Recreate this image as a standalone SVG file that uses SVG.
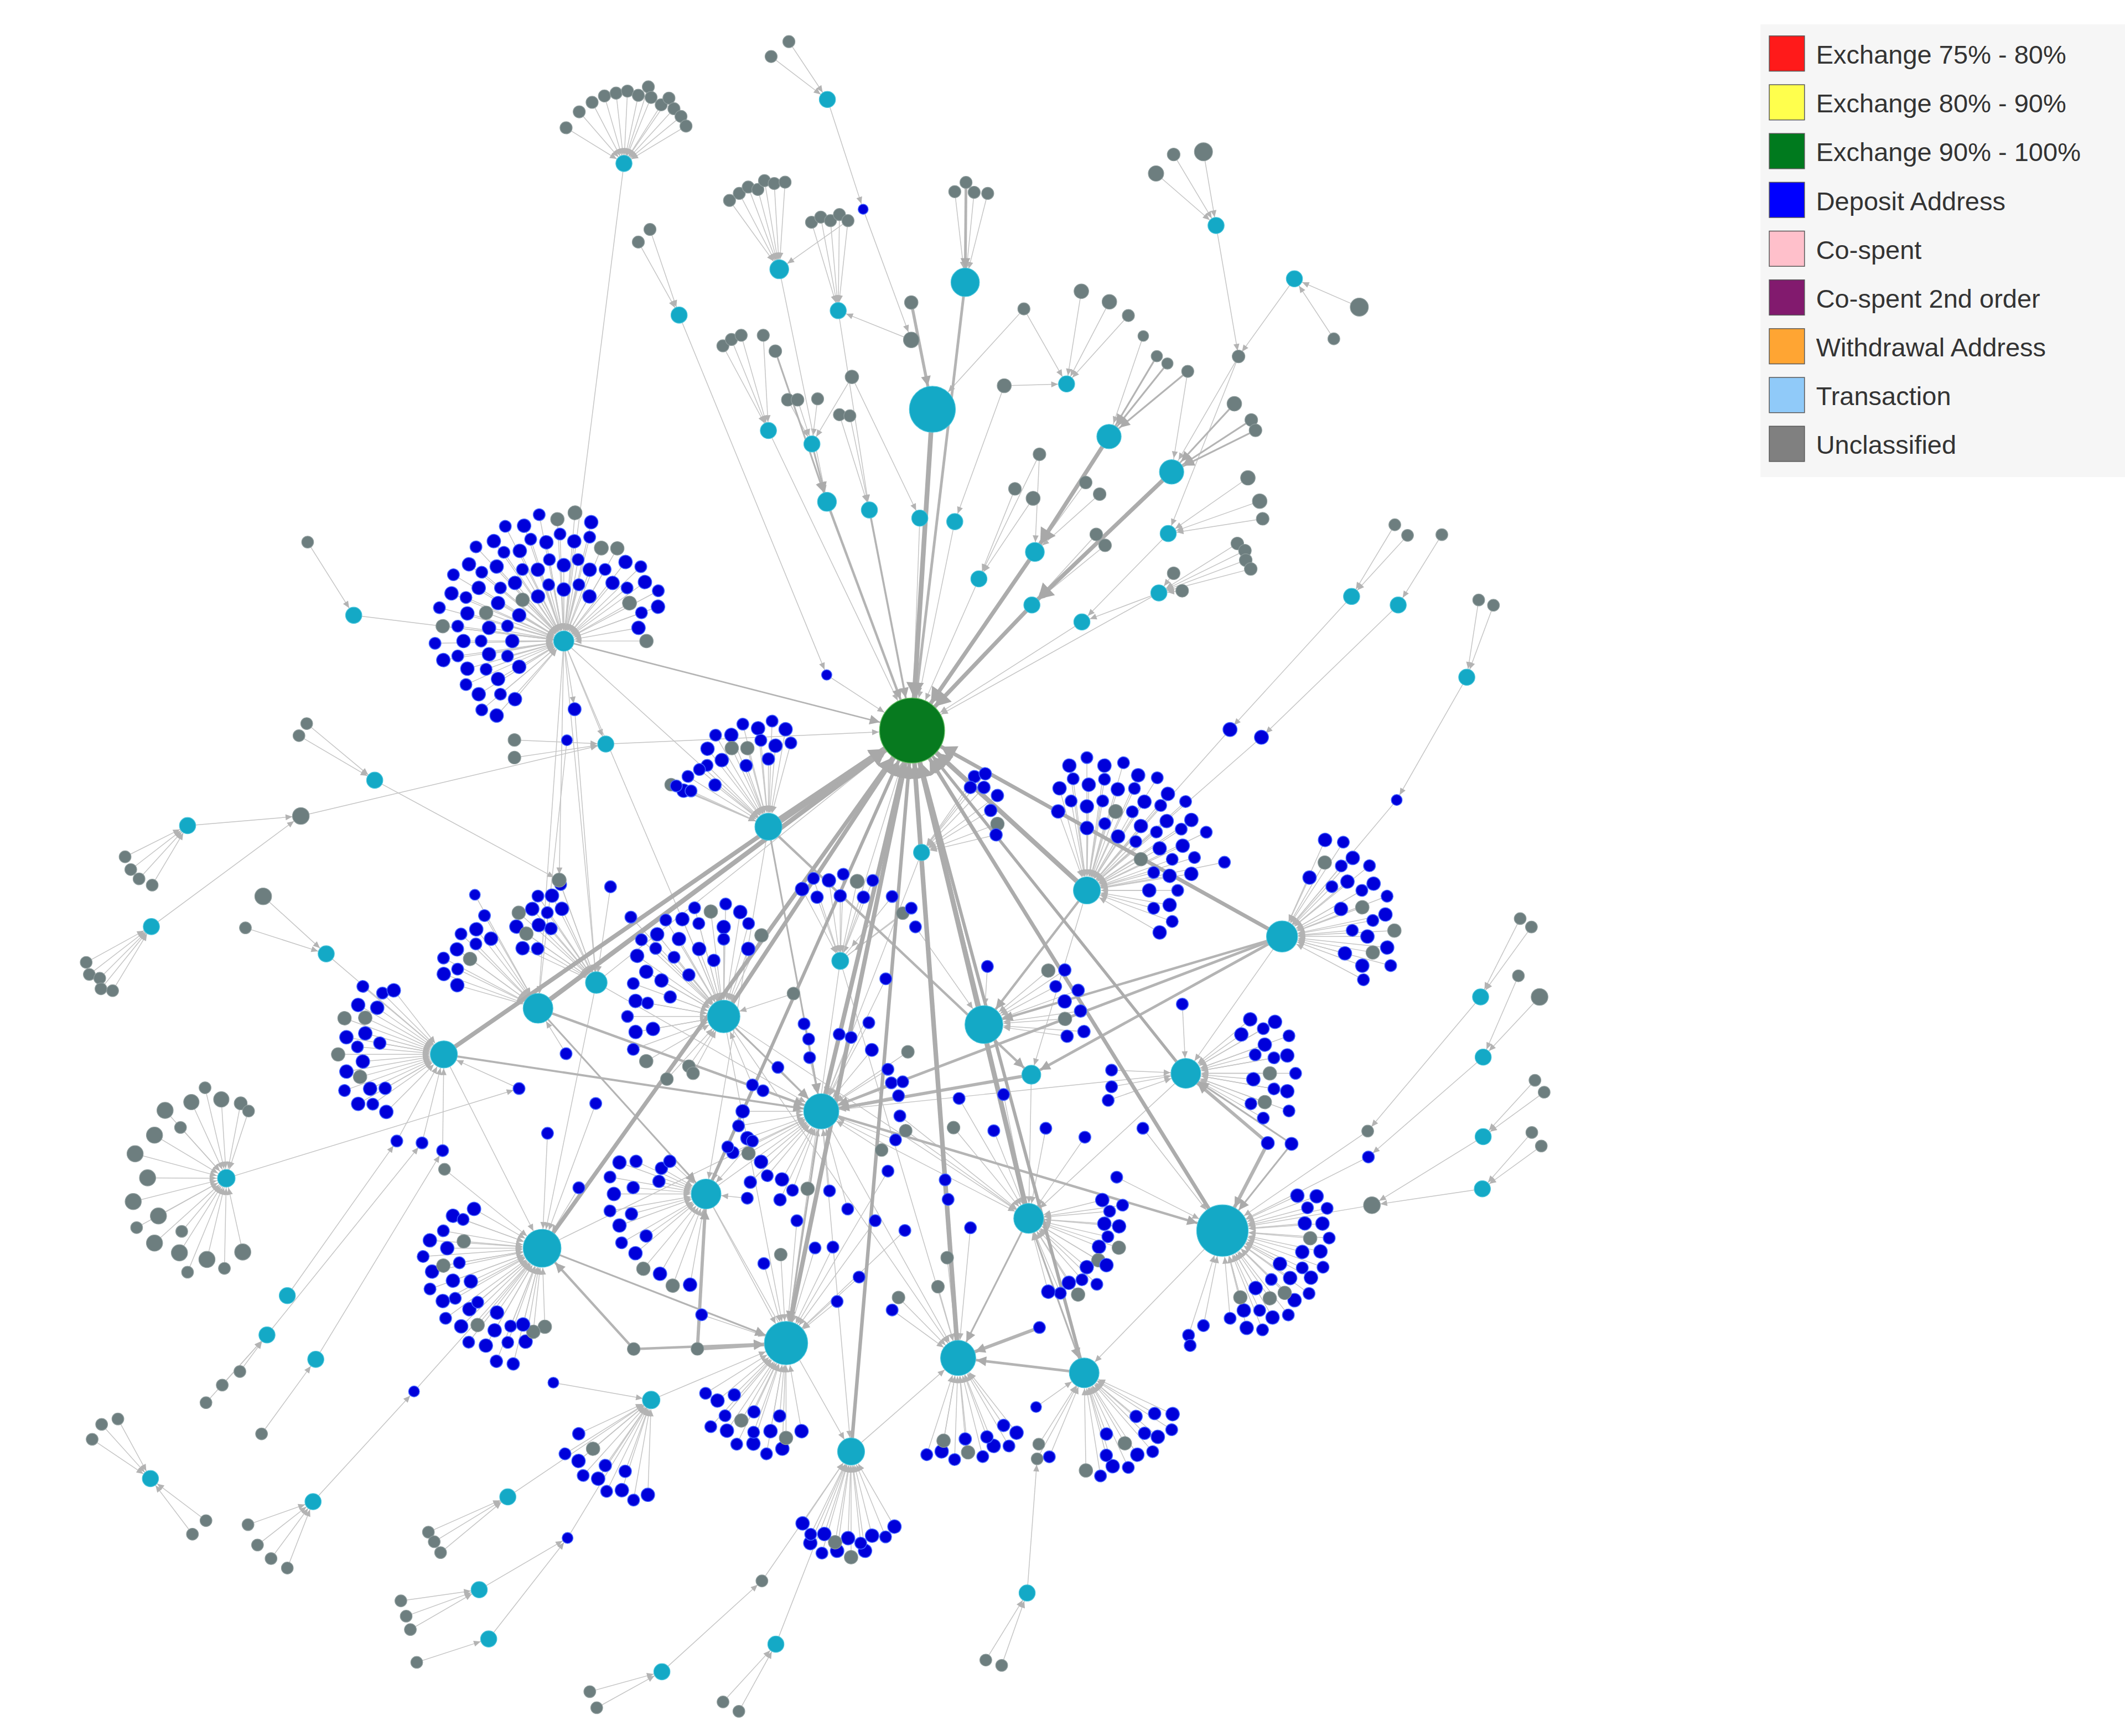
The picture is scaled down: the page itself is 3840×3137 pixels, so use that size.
<svg xmlns="http://www.w3.org/2000/svg" width="3840" height="3137" viewBox="0 0 3840 3137">
<style>
.e{stroke:#c4c4c4;stroke-width:.6;fill:none}
.m{stroke:#b4b4b4;stroke-width:1.3;fill:none}
.k{stroke:#acacac;stroke-width:3.2;fill:none}
.at{fill:#b3b3b3}.am{fill:#ababab}.ak{fill:#a8a8a8}
.t{fill:#14a9c6;stroke:#48c4db;stroke-width:.5}
.d{fill:#0000da;stroke:#4262ff;stroke-width:.6}
.u{fill:#6d7e7f;stroke:#8e9c9c;stroke-width:.5}
.x{fill:#077a1f;stroke:#5cb85c;stroke-width:.6}
.lg{font-family:"Liberation Sans",Arial,sans-serif;font-size:19.2px;fill:#333}
.sw{stroke:#555;stroke-width:.6}
</style>
<defs>
<marker id="t0" viewBox="-6 -3 7 6" refX="0" markerWidth="7" markerHeight="6" markerUnits="userSpaceOnUse" orient="auto" overflow="visible"><path class="at" d="M-5-2.2L0 0-5 2.2z"/></marker>
<marker id="t4" viewBox="-6 -3 7 6" refX="4.3" markerWidth="7" markerHeight="6" markerUnits="userSpaceOnUse" orient="auto" overflow="visible"><path class="at" d="M-5-2.2L0 0-5 2.2z"/></marker>
<marker id="t6" viewBox="-6 -3 7 6" refX="6.3" markerWidth="7" markerHeight="6" markerUnits="userSpaceOnUse" orient="auto" overflow="visible"><path class="at" d="M-5-2.2L0 0-5 2.2z"/></marker>
<marker id="t7" viewBox="-6 -3 7 6" refX="7.3" markerWidth="7" markerHeight="6" markerUnits="userSpaceOnUse" orient="auto" overflow="visible"><path class="at" d="M-5-2.2L0 0-5 2.2z"/></marker>
<marker id="t10" viewBox="-6 -3 7 6" refX="10.3" markerWidth="7" markerHeight="6" markerUnits="userSpaceOnUse" orient="auto" overflow="visible"><path class="at" d="M-5-2.2L0 0-5 2.2z"/></marker>
<marker id="t11" viewBox="-6 -3 7 6" refX="11.3" markerWidth="7" markerHeight="6" markerUnits="userSpaceOnUse" orient="auto" overflow="visible"><path class="at" d="M-5-2.2L0 0-5 2.2z"/></marker>
<marker id="t12" viewBox="-6 -3 7 6" refX="12.3" markerWidth="7" markerHeight="6" markerUnits="userSpaceOnUse" orient="auto" overflow="visible"><path class="at" d="M-5-2.2L0 0-5 2.2z"/></marker>
<marker id="t13" viewBox="-6 -3 7 6" refX="13.3" markerWidth="7" markerHeight="6" markerUnits="userSpaceOnUse" orient="auto" overflow="visible"><path class="at" d="M-5-2.2L0 0-5 2.2z"/></marker>
<marker id="t14" viewBox="-6 -3 7 6" refX="14.3" markerWidth="7" markerHeight="6" markerUnits="userSpaceOnUse" orient="auto" overflow="visible"><path class="at" d="M-5-2.2L0 0-5 2.2z"/></marker>
<marker id="t16" viewBox="-6 -3 7 6" refX="16.3" markerWidth="7" markerHeight="6" markerUnits="userSpaceOnUse" orient="auto" overflow="visible"><path class="at" d="M-5-2.2L0 0-5 2.2z"/></marker>
<marker id="t17" viewBox="-6 -3 7 6" refX="17.3" markerWidth="7" markerHeight="6" markerUnits="userSpaceOnUse" orient="auto" overflow="visible"><path class="at" d="M-5-2.2L0 0-5 2.2z"/></marker>
<marker id="t19" viewBox="-6 -3 7 6" refX="19.3" markerWidth="7" markerHeight="6" markerUnits="userSpaceOnUse" orient="auto" overflow="visible"><path class="at" d="M-5-2.2L0 0-5 2.2z"/></marker>
<marker id="t24" viewBox="-6 -3 7 6" refX="24.5" markerWidth="7" markerHeight="6" markerUnits="userSpaceOnUse" orient="auto" overflow="visible"><path class="at" d="M-5-2.2L0 0-5 2.2z"/></marker>
<marker id="m7" viewBox="-8 -4 9 8" refX="7.3" markerWidth="9" markerHeight="8" markerUnits="userSpaceOnUse" orient="auto" overflow="visible"><path class="am" d="M-7.5-3.6L0 0-7.5 3.6z"/></marker>
<marker id="m10" viewBox="-8 -4 9 8" refX="10.3" markerWidth="9" markerHeight="8" markerUnits="userSpaceOnUse" orient="auto" overflow="visible"><path class="am" d="M-7.5-3.6L0 0-7.5 3.6z"/></marker>
<marker id="m11" viewBox="-8 -4 9 8" refX="11.3" markerWidth="9" markerHeight="8" markerUnits="userSpaceOnUse" orient="auto" overflow="visible"><path class="am" d="M-7.5-3.6L0 0-7.5 3.6z"/></marker>
<marker id="m13" viewBox="-8 -4 9 8" refX="13.3" markerWidth="9" markerHeight="8" markerUnits="userSpaceOnUse" orient="auto" overflow="visible"><path class="am" d="M-7.5-3.6L0 0-7.5 3.6z"/></marker>
<marker id="m14" viewBox="-8 -4 9 8" refX="14.3" markerWidth="9" markerHeight="8" markerUnits="userSpaceOnUse" orient="auto" overflow="visible"><path class="am" d="M-7.5-3.6L0 0-7.5 3.6z"/></marker>
<marker id="m16" viewBox="-8 -4 9 8" refX="16.3" markerWidth="9" markerHeight="8" markerUnits="userSpaceOnUse" orient="auto" overflow="visible"><path class="am" d="M-7.5-3.6L0 0-7.5 3.6z"/></marker>
<marker id="m17" viewBox="-8 -4 9 8" refX="17.3" markerWidth="9" markerHeight="8" markerUnits="userSpaceOnUse" orient="auto" overflow="visible"><path class="am" d="M-7.5-3.6L0 0-7.5 3.6z"/></marker>
<marker id="m19" viewBox="-8 -4 9 8" refX="19.3" markerWidth="9" markerHeight="8" markerUnits="userSpaceOnUse" orient="auto" overflow="visible"><path class="am" d="M-7.5-3.6L0 0-7.5 3.6z"/></marker>
<marker id="m24" viewBox="-8 -4 9 8" refX="24.5" markerWidth="9" markerHeight="8" markerUnits="userSpaceOnUse" orient="auto" overflow="visible"><path class="am" d="M-7.5-3.6L0 0-7.5 3.6z"/></marker>
<marker id="k6" viewBox="-12 -7 13 14" refX="6.3" markerWidth="13" markerHeight="14" markerUnits="userSpaceOnUse" orient="auto" overflow="visible"><path class="ak" d="M-11-6.5L0 0-11 6.5z"/></marker>
<marker id="k7" viewBox="-12 -7 13 14" refX="7.3" markerWidth="13" markerHeight="14" markerUnits="userSpaceOnUse" orient="auto" overflow="visible"><path class="ak" d="M-11-6.5L0 0-11 6.5z"/></marker>
<marker id="k24" viewBox="-12 -7 13 14" refX="24.5" markerWidth="13" markerHeight="14" markerUnits="userSpaceOnUse" orient="auto" overflow="visible"><path class="ak" d="M-11-6.5L0 0-11 6.5z"/></marker>
</defs>
<rect width="3840" height="3137" fill="#fff"/>
<g transform="scale(2.449)">
<g id="connectors">
<g class="e" marker-end="url(#t0)">
<g transform="translate(416 473)">
<path d="M92 0H8" transform="rotate(171)"/><path d="M92 0H8" transform="rotate(179)"/><path d="M92 0H8" transform="rotate(187)"/><path d="M92 0H8" transform="rotate(195)"/><path d="M92 0H8" transform="rotate(203)"/><path d="M92 0H8" transform="rotate(211)"/><path d="M92 0H8" transform="rotate(219)"/><path d="M92 0H8" transform="rotate(227)"/><path d="M92 0H8" transform="rotate(235)"/><path d="M92 0H8" transform="rotate(243)"/><path d="M92 0H8" transform="rotate(251)"/><path d="M92 0H8" transform="rotate(259)"/><path d="M92 0H8" transform="rotate(267)"/><path d="M92 0H8" transform="rotate(275)"/><path d="M92 0H8" transform="rotate(283)"/>
<path d="M76 0H8" transform="rotate(132)"/><path d="M76 0H8" transform="rotate(140)"/><path d="M76 0H8" transform="rotate(148)"/><path d="M76 0H8" transform="rotate(156)"/><path d="M76 0H8" transform="rotate(164)"/><path d="M76 0H8" transform="rotate(172)"/><path d="M76 0H8" transform="rotate(180)"/><path d="M76 0H8" transform="rotate(188)"/><path d="M76 0H8" transform="rotate(196)"/><path d="M76 0H8" transform="rotate(204)"/><path d="M76 0H8" transform="rotate(212)"/><path d="M76 0H8" transform="rotate(220)"/><path d="M76 0H8" transform="rotate(228)"/><path d="M76 0H8" transform="rotate(236)"/><path d="M76 0H8" transform="rotate(244)"/><path d="M76 0H8" transform="rotate(252)"/><path d="M76 0H8" transform="rotate(260)"/><path d="M76 0H8" transform="rotate(268)"/><path d="M76 0H8" transform="rotate(276)"/><path d="M76 0H8" transform="rotate(284)"/><path d="M76 0H8" transform="rotate(292)"/><path d="M76 0H8" transform="rotate(300)"/><path d="M76 0H8" transform="rotate(308)"/><path d="M76 0H8" transform="rotate(316)"/><path d="M76 0H8" transform="rotate(324)"/><path d="M76 0H8" transform="rotate(332)"/><path d="M76 0H8" transform="rotate(340)"/>
<path d="M58 0H8" transform="rotate(130)"/><path d="M58 0H8" transform="rotate(140)"/><path d="M58 0H8" transform="rotate(150)"/><path d="M58 0H8" transform="rotate(160)"/><path d="M58 0H8" transform="rotate(170)"/><path d="M58 0H8" transform="rotate(180)"/><path d="M58 0H8" transform="rotate(190)"/><path d="M58 0H8" transform="rotate(200)"/><path d="M58 0H8" transform="rotate(210)"/><path d="M58 0H8" transform="rotate(220)"/><path d="M58 0H8" transform="rotate(230)"/><path d="M58 0H8" transform="rotate(240)"/><path d="M58 0H8" transform="rotate(250)"/><path d="M58 0H8" transform="rotate(260)"/><path d="M58 0H8" transform="rotate(270)"/><path d="M58 0H8" transform="rotate(280)"/><path d="M58 0H8" transform="rotate(290)"/><path d="M58 0H8" transform="rotate(300)"/><path d="M58 0H8" transform="rotate(310)"/><path d="M58 0H8" transform="rotate(320)"/><path d="M58 0H8" transform="rotate(330)"/><path d="M58 0H8" transform="rotate(340)"/><path d="M58 0H8" transform="rotate(350)"/><path d="M58 0H8" transform="rotate(360)"/>
<path d="M40 0H8" transform="rotate(150)"/><path d="M40 0H8" transform="rotate(165)"/><path d="M40 0H8" transform="rotate(180)"/><path d="M40 0H8" transform="rotate(195)"/><path d="M40 0H8" transform="rotate(210)"/><path d="M40 0H8" transform="rotate(225)"/><path d="M40 0H8" transform="rotate(240)"/><path d="M40 0H8" transform="rotate(255)"/><path d="M40 0H8" transform="rotate(270)"/><path d="M40 0H8" transform="rotate(285)"/><path d="M40 0H8" transform="rotate(300)"/>
</g>
<g transform="translate(567 610)">
<path d="M75 0H10.5" transform="rotate(232)"/><path d="M75 0H10.5" transform="rotate(240)"/><path d="M75 0H10.5" transform="rotate(248)"/><path d="M75 0H10.5" transform="rotate(256)"/><path d="M75 0H10.5" transform="rotate(264)"/><path d="M75 0H10.5" transform="rotate(272)"/><path d="M75 0H10.5" transform="rotate(280)"/>
<path d="M62 0H10.5" transform="rotate(225)"/><path d="M62 0H10.5" transform="rotate(235)"/><path d="M62 0H10.5" transform="rotate(245)"/><path d="M62 0H10.5" transform="rotate(255)"/><path d="M62 0H10.5" transform="rotate(265)"/><path d="M62 0H10.5" transform="rotate(275)"/><path d="M62 0H10.5" transform="rotate(285)"/>
<path d="M50 0H10.5" transform="rotate(218)"/><path d="M50 0H10.5" transform="rotate(250)"/><path d="M50 0H10.5" transform="rotate(270)"/><path d="M68 0H10.5" transform="rotate(203)"/><path d="M68 0H10.5" transform="rotate(212)"/>
</g>
<g transform="translate(802 657)">
<path d="M95 0H10.5" transform="rotate(262)"/><path d="M95 0H10.5" transform="rotate(270)"/><path d="M95 0H10.5" transform="rotate(278)"/><path d="M95 0H10.5" transform="rotate(286)"/><path d="M95 0H10.5" transform="rotate(294)"/><path d="M95 0H10.5" transform="rotate(302)"/><path d="M95 0H10.5" transform="rotate(310)"/><path d="M95 0H10.5" transform="rotate(318)"/><path d="M95 0H10.5" transform="rotate(326)"/><path d="M95 0H10.5" transform="rotate(334)"/>
<path d="M80 0H10.5" transform="rotate(255)"/><path d="M80 0H10.5" transform="rotate(263)"/><path d="M80 0H10.5" transform="rotate(271)"/><path d="M80 0H10.5" transform="rotate(279)"/><path d="M80 0H10.5" transform="rotate(287)"/><path d="M80 0H10.5" transform="rotate(295)"/><path d="M80 0H10.5" transform="rotate(303)"/><path d="M80 0H10.5" transform="rotate(311)"/><path d="M80 0H10.5" transform="rotate(319)"/><path d="M80 0H10.5" transform="rotate(327)"/><path d="M80 0H10.5" transform="rotate(335)"/><path d="M80 0H10.5" transform="rotate(343)"/><path d="M80 0H10.5" transform="rotate(351)"/>
<path d="M64 0H10.5" transform="rotate(250)"/><path d="M64 0H10.5" transform="rotate(260)"/><path d="M64 0H10.5" transform="rotate(270)"/><path d="M64 0H10.5" transform="rotate(280)"/><path d="M64 0H10.5" transform="rotate(290)"/><path d="M64 0H10.5" transform="rotate(300)"/><path d="M64 0H10.5" transform="rotate(310)"/><path d="M64 0H10.5" transform="rotate(320)"/><path d="M64 0H10.5" transform="rotate(330)"/><path d="M64 0H10.5" transform="rotate(340)"/><path d="M64 0H10.5" transform="rotate(350)"/><path d="M64 0H10.5" transform="rotate(360)"/><path d="M64 0H10.5" transform="rotate(370)"/><path d="M64 0H10.5" transform="rotate(380)"/><path d="M64 0H10.5" transform="rotate(390)"/>
<path d="M48 0H10.5" transform="rotate(270)"/><path d="M48 0H10.5" transform="rotate(285)"/><path d="M48 0H10.5" transform="rotate(300)"/><path d="M48 0H10.5" transform="rotate(315)"/><path d="M48 0H10.5" transform="rotate(330)"/><path d="M48 0H10.5" transform="rotate(345)"/><path d="M48 0H10.5" transform="rotate(360)"/><path d="M48 0H10.5" transform="rotate(375)"/>
</g>
<g transform="translate(946 691)">
<path d="M80 0H12" transform="rotate(-66)"/><path d="M80 0H12" transform="rotate(-57)"/><path d="M80 0H12" transform="rotate(-48)"/><path d="M80 0H12" transform="rotate(-39)"/><path d="M80 0H12" transform="rotate(-30)"/><path d="M80 0H12" transform="rotate(-21)"/><path d="M80 0H12" transform="rotate(-12)"/><path d="M80 0H12" transform="rotate(-3)"/><path d="M80 0H12" transform="rotate(6)"/><path d="M80 0H12" transform="rotate(15)"/>
<path d="M65 0H12" transform="rotate(-60)"/><path d="M65 0H12" transform="rotate(-50)"/><path d="M65 0H12" transform="rotate(-40)"/><path d="M65 0H12" transform="rotate(-30)"/><path d="M65 0H12" transform="rotate(-20)"/><path d="M65 0H12" transform="rotate(-10)"/><path d="M65 0H12" transform="rotate(0)"/><path d="M65 0H12" transform="rotate(10)"/><path d="M65 0H12" transform="rotate(20)"/><path d="M65 0H12" transform="rotate(28)"/>
<path d="M50 0H12" transform="rotate(-65)"/><path d="M50 0H12" transform="rotate(-45)"/><path d="M50 0H12" transform="rotate(-25)"/><path d="M50 0H12" transform="rotate(-5)"/><path d="M50 0H12" transform="rotate(15)"/>
</g>
<g transform="translate(875 792)">
<path d="M78 0H11.5" transform="rotate(-30)"/><path d="M78 0H11.5" transform="rotate(-20)"/><path d="M78 0H11.5" transform="rotate(-10)"/><path d="M78 0H11.5" transform="rotate(0)"/><path d="M78 0H11.5" transform="rotate(10)"/><path d="M78 0H11.5" transform="rotate(20)"/>
<path d="M64 0H11.5" transform="rotate(-40)"/><path d="M64 0H11.5" transform="rotate(-30)"/><path d="M64 0H11.5" transform="rotate(-20)"/><path d="M64 0H11.5" transform="rotate(-10)"/><path d="M64 0H11.5" transform="rotate(0)"/><path d="M64 0H11.5" transform="rotate(10)"/><path d="M64 0H11.5" transform="rotate(20)"/><path d="M64 0H11.5" transform="rotate(30)"/>
<path d="M52 0H11.5" transform="rotate(-35)"/><path d="M52 0H11.5" transform="rotate(-15)"/><path d="M52 0H11.5" transform="rotate(5)"/><path d="M52 0H11.5" transform="rotate(25)"/>
</g>
<g transform="translate(902 908)">
<path d="M76 0H19.5" transform="rotate(-20)"/><path d="M76 0H19.5" transform="rotate(-12)"/><path d="M76 0H19.5" transform="rotate(-4)"/><path d="M76 0H19.5" transform="rotate(4)"/><path d="M76 0H19.5" transform="rotate(12)"/><path d="M76 0H19.5" transform="rotate(20)"/><path d="M76 0H19.5" transform="rotate(28)"/><path d="M76 0H19.5" transform="rotate(36)"/><path d="M76 0H19.5" transform="rotate(44)"/><path d="M76 0H19.5" transform="rotate(52)"/><path d="M76 0H19.5" transform="rotate(60)"/><path d="M76 0H19.5" transform="rotate(68)"/><path d="M76 0H19.5" transform="rotate(76)"/>
<path d="M63 0H19.5" transform="rotate(-25)"/><path d="M63 0H19.5" transform="rotate(-15)"/><path d="M63 0H19.5" transform="rotate(-5)"/><path d="M63 0H19.5" transform="rotate(5)"/><path d="M63 0H19.5" transform="rotate(15)"/><path d="M63 0H19.5" transform="rotate(25)"/><path d="M63 0H19.5" transform="rotate(35)"/><path d="M63 0H19.5" transform="rotate(45)"/><path d="M63 0H19.5" transform="rotate(55)"/><path d="M63 0H19.5" transform="rotate(65)"/><path d="M63 0H19.5" transform="rotate(75)"/><path d="M63 0H19.5" transform="rotate(85)"/>
<path d="M50 0H19.5" transform="rotate(30)"/><path d="M50 0H19.5" transform="rotate(45)"/><path d="M50 0H19.5" transform="rotate(60)"/><path d="M50 0H19.5" transform="rotate(75)"/>
</g>
<g transform="translate(759 899)">
<path d="M58 0H11.5" transform="rotate(-14)"/><path d="M58 0H11.5" transform="rotate(-5)"/><path d="M58 0H11.5" transform="rotate(4)"/><path d="M58 0H11.5" transform="rotate(13)"/><path d="M58 0H11.5" transform="rotate(22)"/><path d="M58 0H11.5" transform="rotate(31)"/><path d="M58 0H11.5" transform="rotate(40)"/><path d="M58 0H11.5" transform="rotate(49)"/><path d="M58 0H11.5" transform="rotate(58)"/><path d="M58 0H11.5" transform="rotate(67)"/><path d="M58 0H11.5" transform="rotate(75)"/>
<path d="M68 0H11.5" transform="rotate(-8)"/><path d="M68 0H11.5" transform="rotate(5)"/><path d="M68 0H11.5" transform="rotate(18)"/><path d="M68 0H11.5" transform="rotate(31)"/><path d="M68 0H11.5" transform="rotate(44)"/><path d="M68 0H11.5" transform="rotate(57)"/>
</g>
<g transform="translate(726 756)">
<path d="M62 0H14.5" transform="rotate(-40)"/><path d="M62 0H14.5" transform="rotate(-28)"/><path d="M62 0H14.5" transform="rotate(-16)"/><path d="M62 0H14.5" transform="rotate(-4)"/><path d="M62 0H14.5" transform="rotate(8)"/>
<path d="M72 0H14.5" transform="rotate(-34)"/><path d="M72 0H14.5" transform="rotate(-20)"/><path d="M72 0H14.5" transform="rotate(-8)"/><path d="M72 0H14.5" transform="rotate(4)"/>
</g>
<g transform="translate(620 709)">
<path d="M62 0H6.5" transform="rotate(242)"/><path d="M62 0H6.5" transform="rotate(252)"/><path d="M62 0H6.5" transform="rotate(262)"/><path d="M62 0H6.5" transform="rotate(272)"/><path d="M62 0H6.5" transform="rotate(282)"/><path d="M62 0H6.5" transform="rotate(292)"/>
<path d="M50 0H6.5" transform="rotate(250)"/><path d="M50 0H6.5" transform="rotate(270)"/><path d="M50 0H6.5" transform="rotate(290)"/>
</g>
<g transform="translate(534 750)">
<path d="M80 0H12.5" transform="rotate(215)"/><path d="M80 0H12.5" transform="rotate(223)"/><path d="M80 0H12.5" transform="rotate(231)"/><path d="M80 0H12.5" transform="rotate(239)"/><path d="M80 0H12.5" transform="rotate(247)"/><path d="M80 0H12.5" transform="rotate(255)"/><path d="M80 0H12.5" transform="rotate(263)"/><path d="M80 0H12.5" transform="rotate(271)"/><path d="M80 0H12.5" transform="rotate(279)"/>
<path d="M68 0H12.5" transform="rotate(150)"/><path d="M68 0H12.5" transform="rotate(160)"/><path d="M68 0H12.5" transform="rotate(170)"/><path d="M68 0H12.5" transform="rotate(180)"/><path d="M68 0H12.5" transform="rotate(190)"/><path d="M68 0H12.5" transform="rotate(200)"/><path d="M68 0H12.5" transform="rotate(210)"/><path d="M68 0H12.5" transform="rotate(225)"/><path d="M68 0H12.5" transform="rotate(240)"/><path d="M68 0H12.5" transform="rotate(255)"/><path d="M68 0H12.5" transform="rotate(270)"/><path d="M68 0H12.5" transform="rotate(285)"/><path d="M68 0H12.5" transform="rotate(295)"/>
<path d="M55 0H12.5" transform="rotate(170)"/><path d="M55 0H12.5" transform="rotate(190)"/><path d="M55 0H12.5" transform="rotate(210)"/><path d="M55 0H12.5" transform="rotate(230)"/><path d="M55 0H12.5" transform="rotate(250)"/><path d="M55 0H12.5" transform="rotate(270)"/><path d="M55 0H12.5" transform="rotate(290)"/>
<path d="M42 0H12.5" transform="rotate(200)"/><path d="M42 0H12.5" transform="rotate(230)"/><path d="M42 0H12.5" transform="rotate(260)"/>
</g>
<g transform="translate(606 820)">
<path d="M60 0H13.5" transform="rotate(100)"/><path d="M60 0H13.5" transform="rotate(110)"/><path d="M60 0H13.5" transform="rotate(120)"/><path d="M60 0H13.5" transform="rotate(130)"/><path d="M60 0H13.5" transform="rotate(140)"/><path d="M60 0H13.5" transform="rotate(150)"/><path d="M60 0H13.5" transform="rotate(160)"/><path d="M60 0H13.5" transform="rotate(170)"/><path d="M60 0H13.5" transform="rotate(180)"/>
<path d="M72 0H13.5" transform="rotate(115)"/><path d="M72 0H13.5" transform="rotate(135)"/><path d="M72 0H13.5" transform="rotate(155)"/>
</g>
<g transform="translate(521 881)">
<path d="M70 0H11.5" transform="rotate(100)"/><path d="M70 0H11.5" transform="rotate(110)"/><path d="M70 0H11.5" transform="rotate(120)"/><path d="M70 0H11.5" transform="rotate(130)"/><path d="M70 0H11.5" transform="rotate(140)"/><path d="M70 0H11.5" transform="rotate(150)"/><path d="M70 0H11.5" transform="rotate(160)"/><path d="M70 0H11.5" transform="rotate(170)"/><path d="M70 0H11.5" transform="rotate(180)"/><path d="M70 0H11.5" transform="rotate(190)"/><path d="M70 0H11.5" transform="rotate(200)"/>
<path d="M56 0H11.5" transform="rotate(145)"/><path d="M56 0H11.5" transform="rotate(165)"/><path d="M56 0H11.5" transform="rotate(185)"/><path d="M56 0H11.5" transform="rotate(205)"/>
<path d="M36 0H11.5" transform="rotate(195)"/><path d="M36 0H11.5" transform="rotate(210)"/><path d="M36 0H11.5" transform="rotate(222)"/>
</g>
<g transform="translate(400 921)">
<path d="M85 0H14.5" transform="rotate(120)"/><path d="M85 0H14.5" transform="rotate(128)"/><path d="M85 0H14.5" transform="rotate(136)"/><path d="M85 0H14.5" transform="rotate(144)"/><path d="M85 0H14.5" transform="rotate(152)"/><path d="M85 0H14.5" transform="rotate(160)"/><path d="M85 0H14.5" transform="rotate(168)"/><path d="M85 0H14.5" transform="rotate(176)"/><path d="M85 0H14.5" transform="rotate(184)"/>
<path d="M72 0H14.5" transform="rotate(100)"/><path d="M72 0H14.5" transform="rotate(110)"/><path d="M72 0H14.5" transform="rotate(120)"/><path d="M72 0H14.5" transform="rotate(130)"/><path d="M72 0H14.5" transform="rotate(140)"/><path d="M72 0H14.5" transform="rotate(150)"/><path d="M72 0H14.5" transform="rotate(160)"/><path d="M72 0H14.5" transform="rotate(170)"/><path d="M72 0H14.5" transform="rotate(180)"/><path d="M72 0H14.5" transform="rotate(190)"/><path d="M72 0H14.5" transform="rotate(200)"/>
<path d="M60 0H14.5" transform="rotate(88)"/><path d="M60 0H14.5" transform="rotate(96)"/><path d="M60 0H14.5" transform="rotate(104)"/><path d="M60 0H14.5" transform="rotate(112)"/><path d="M60 0H14.5" transform="rotate(125)"/><path d="M60 0H14.5" transform="rotate(140)"/><path d="M60 0H14.5" transform="rotate(155)"/><path d="M60 0H14.5" transform="rotate(170)"/><path d="M60 0H14.5" transform="rotate(185)"/><path d="M60 0H14.5" transform="rotate(200)"/><path d="M60 0H14.5" transform="rotate(210)"/>
<path d="M88 0H14.5" transform="rotate(104)"/><path d="M88 0H14.5" transform="rotate(112)"/>
</g>
<g transform="translate(327.5 778)">
<path d="M75 0H10.5" transform="rotate(150)"/><path d="M75 0H10.5" transform="rotate(160)"/><path d="M75 0H10.5" transform="rotate(170)"/><path d="M75 0H10.5" transform="rotate(180)"/><path d="M75 0H10.5" transform="rotate(190)"/><path d="M75 0H10.5" transform="rotate(200)"/><path d="M75 0H10.5" transform="rotate(210)"/><path d="M75 0H10.5" transform="rotate(220)"/>
<path d="M62 0H10.5" transform="rotate(135)"/><path d="M62 0H10.5" transform="rotate(145)"/><path d="M62 0H10.5" transform="rotate(155)"/><path d="M62 0H10.5" transform="rotate(165)"/><path d="M62 0H10.5" transform="rotate(175)"/><path d="M62 0H10.5" transform="rotate(185)"/><path d="M62 0H10.5" transform="rotate(195)"/><path d="M62 0H10.5" transform="rotate(205)"/><path d="M62 0H10.5" transform="rotate(215)"/><path d="M62 0H10.5" transform="rotate(225)"/><path d="M62 0H10.5" transform="rotate(232)"/>
<path d="M50 0H10.5" transform="rotate(150)"/><path d="M50 0H10.5" transform="rotate(190)"/>
</g>
<g transform="translate(397 744)">
<path d="M76 0H11.5" transform="rotate(200)"/><path d="M76 0H11.5" transform="rotate(208)"/><path d="M76 0H11.5" transform="rotate(216)"/><path d="M76 0H11.5" transform="rotate(224)"/><path d="M76 0H11.5" transform="rotate(232)"/><path d="M76 0H11.5" transform="rotate(240)"/>
<path d="M64 0H11.5" transform="rotate(196)"/><path d="M64 0H11.5" transform="rotate(206)"/><path d="M64 0H11.5" transform="rotate(216)"/><path d="M64 0H11.5" transform="rotate(226)"/><path d="M64 0H11.5" transform="rotate(236)"/>
</g>
<g transform="translate(440 725)">
<path d="M74 0H8.5" transform="rotate(215)"/><path d="M74 0H8.5" transform="rotate(222)"/><path d="M74 0H8.5" transform="rotate(229)"/><path d="M74 0H8.5" transform="rotate(236)"/><path d="M74 0H8.5" transform="rotate(243)"/><path d="M74 0H8.5" transform="rotate(250)"/>
<path d="M62 0H8.5" transform="rotate(205)"/><path d="M62 0H8.5" transform="rotate(215)"/><path d="M62 0H8.5" transform="rotate(225)"/><path d="M62 0H8.5" transform="rotate(235)"/><path d="M62 0H8.5" transform="rotate(245)"/>
<path d="M52 0H8.5" transform="rotate(210)"/><path d="M52 0H8.5" transform="rotate(230)"/>
</g>
<g transform="translate(580 991)">
<path d="M80 0H16.5" transform="rotate(92)"/><path d="M80 0H16.5" transform="rotate(100)"/><path d="M80 0H16.5" transform="rotate(108)"/><path d="M80 0H16.5" transform="rotate(116)"/><path d="M80 0H16.5" transform="rotate(124)"/><path d="M80 0H16.5" transform="rotate(132)"/>
<path d="M68 0H16.5" transform="rotate(80)"/><path d="M68 0H16.5" transform="rotate(90)"/><path d="M68 0H16.5" transform="rotate(100)"/><path d="M68 0H16.5" transform="rotate(110)"/><path d="M68 0H16.5" transform="rotate(120)"/><path d="M68 0H16.5" transform="rotate(130)"/><path d="M68 0H16.5" transform="rotate(140)"/><path d="M68 0H16.5" transform="rotate(148)"/>
<path d="M55 0H16.5" transform="rotate(95)"/><path d="M55 0H16.5" transform="rotate(115)"/><path d="M55 0H16.5" transform="rotate(135)"/>
</g>
<g transform="translate(707 1002)">
<path d="M72 0H13.5" transform="rotate(52)"/><path d="M72 0H13.5" transform="rotate(60)"/><path d="M72 0H13.5" transform="rotate(68)"/><path d="M72 0H13.5" transform="rotate(76)"/><path d="M72 0H13.5" transform="rotate(84)"/><path d="M72 0H13.5" transform="rotate(92)"/><path d="M72 0H13.5" transform="rotate(100)"/><path d="M72 0H13.5" transform="rotate(108)"/>
<path d="M62 0H13.5" transform="rotate(56)"/><path d="M62 0H13.5" transform="rotate(70)"/><path d="M62 0H13.5" transform="rotate(85)"/><path d="M62 0H13.5" transform="rotate(100)"/>
</g>
<g transform="translate(800 1013)">
<path d="M74 0H11.5" transform="rotate(25)"/><path d="M74 0H11.5" transform="rotate(33)"/><path d="M74 0H11.5" transform="rotate(41)"/><path d="M74 0H11.5" transform="rotate(49)"/><path d="M74 0H11.5" transform="rotate(57)"/><path d="M74 0H11.5" transform="rotate(65)"/><path d="M74 0H11.5" transform="rotate(73)"/><path d="M74 0H11.5" transform="rotate(81)"/><path d="M74 0H11.5" transform="rotate(89)"/>
<path d="M62 0H11.5" transform="rotate(30)"/><path d="M62 0H11.5" transform="rotate(45)"/><path d="M62 0H11.5" transform="rotate(60)"/><path d="M62 0H11.5" transform="rotate(75)"/><path d="M50 0H11.5" transform="rotate(40)"/><path d="M50 0H11.5" transform="rotate(70)"/>
</g>
<g transform="translate(628 1071)">
<path d="M76 0H10.5" transform="rotate(82)"/><path d="M76 0H10.5" transform="rotate(90)"/><path d="M76 0H10.5" transform="rotate(98)"/><path d="M76 0H10.5" transform="rotate(106)"/><path d="M76 0H10.5" transform="rotate(114)"/>
<path d="M66 0H10.5" transform="rotate(60)"/><path d="M66 0H10.5" transform="rotate(68)"/><path d="M66 0H10.5" transform="rotate(76)"/><path d="M66 0H10.5" transform="rotate(84)"/><path d="M66 0H10.5" transform="rotate(92)"/><path d="M66 0H10.5" transform="rotate(100)"/><path d="M66 0H10.5" transform="rotate(108)"/><path d="M66 0H10.5" transform="rotate(116)"/><path d="M66 0H10.5" transform="rotate(124)"/>
</g>
<g transform="translate(480.5 1033)">
<path d="M72 0H7" transform="rotate(92)"/><path d="M72 0H7" transform="rotate(100)"/><path d="M72 0H7" transform="rotate(108)"/><path d="M72 0H7" transform="rotate(116)"/><path d="M72 0H7" transform="rotate(124)"/><path d="M72 0H7" transform="rotate(132)"/><path d="M72 0H7" transform="rotate(140)"/><path d="M72 0H7" transform="rotate(148)"/>
<path d="M58 0H7" transform="rotate(110)"/><path d="M58 0H7" transform="rotate(125)"/><path d="M58 0H7" transform="rotate(140)"/><path d="M58 0H7" transform="rotate(155)"/>
</g>
<g transform="translate(680 629)">
<path d="M68.2 0H6.5" transform="rotate(-55.1)"/><path d="M74.7 0H6.5" transform="rotate(-51)"/><path d="M60 0H6.5" transform="rotate(-53.1)"/><path d="M66.5 0H6.5" transform="rotate(-46.2)"/><path d="M70 0H6.5" transform="rotate(-36.9)"/><path d="M59.7 0H6.5" transform="rotate(-31.3)"/><path d="M59.8 0H6.5" transform="rotate(-20.6)"/><path d="M56.5 0H6.5" transform="rotate(-13.3)"/>
</g>
</g>
<g class="e" marker-end="url(#t4)">
<path d="M610.5 73.4L636.9 154.4"/><path d="M501.1 232.5L610 498"/><path d="M997.3 440.1L907.6 538.3"/><path d="M1031.7 446.4L930.8 544"/><path d="M1082.3 499.7L1030.6 590.3"/><path d="M276.5 575.7L412.6 649.4"/><path d="M416 473L412.6 649.4"/><path d="M416 473L424 523.3"/><path d="M167 869.4L383 803.2"/><path d="M212 956L292.8 841.9"/><path d="M197 985L311.4 843.3"/><path d="M233 1003L326.6 849"/><path d="M231 1108L305.5 1026.7"/><path d="M353.6 1173L418.8 1134.8"/><path d="M360.6 1209.3L418.8 1134.8"/><path d="M488.4 1233.5L562.2 1166.5"/><path d="M757.9 1175.4L765.3 1076.4"/><path d="M1092.5 735.6L1009.2 834.6"/><path d="M1094.4 780L1009.7 853.7"/><path d="M897.3 166.4L913.9 263"/><path d="M955.1 205.7L913.9 263"/>
</g>
<g class="e" marker-end="url(#t6)">
<path d="M417.7 94.3L460.4 120.6"/><path d="M427.4 82.5L460.4 120.6"/><path d="M436.9 75.5L460.4 120.6"/><path d="M446 70.8L460.4 120.6"/><path d="M454.6 68.7L460.4 120.6"/><path d="M463 67.2L460.4 120.6"/><path d="M471 70.3L460.4 120.6"/><path d="M478.4 64.1L460.4 120.6"/><path d="M480.4 71.9L460.4 120.6"/><path d="M487.9 77.3L460.4 120.6"/><path d="M493.6 72.4L460.4 120.6"/><path d="M497.3 80.2L460.4 120.6"/><path d="M502.5 85.9L460.4 120.6"/><path d="M506.2 93L460.4 120.6"/>
<path d="M569 41.7L610.5 73.4"/><path d="M582.1 30.7L610.5 73.4"/>
<path d="M598.8 164L618.5 229.2"/><path d="M605.6 160.2L618.5 229.2"/><path d="M612.8 162.8L618.5 229.2"/><path d="M619.4 158.3L618.5 229.2"/><path d="M625.7 162.8L618.5 229.2"/><path d="M672.4 250.8L618.5 229.2"/><path d="M636.9 154.4L672.4 250.8"/>
<path d="M471 178.6L501.1 232.5"/><path d="M479.6 169.3L501.1 232.5"/>
<path d="M533.4 255.2L567 317.7"/><path d="M539.7 250.5L567 317.7"/><path d="M546.9 247.4L567 317.7"/><path d="M563.2 247.4L567 317.7"/>
<path d="M581.3 295L599.1 327.6"/><path d="M588.5 295L599.1 327.6"/><path d="M603.3 294.3L599.1 327.6"/><path d="M628.6 278.1L599.1 327.6"/>
<path d="M619.4 306L641.5 376.3"/><path d="M627.1 306.8L641.5 376.3"/><path d="M618.5 229.2L641.5 376.3"/><path d="M628.6 278.1L678.7 382.3"/>
<path d="M741 284.6L704.5 384.9"/><path d="M741 284.6L787 283.3"/><path d="M755.5 227.9L787 283.3"/><path d="M797.9 214.9L787 283.3"/><path d="M818.6 222.7L787 283.3"/><path d="M832.6 232.8L787 283.3"/>
<path d="M853 128L897.3 166.4"/><path d="M866 114L897.3 166.4"/><path d="M888 112L897.3 166.4"/><path d="M1003 226.6L955.1 205.7"/><path d="M984.2 250L955.1 205.7"/>
<path d="M920.8 352.6L862 393.7"/><path d="M929.5 369.8L862 393.7"/><path d="M931.7 382.8L862 393.7"/><path d="M913.9 263L862 393.7"/>
<path d="M913 401L855.1 437.5"/><path d="M918.6 406.3L855.1 437.5"/><path d="M919.2 413.3L855.1 437.5"/><path d="M922.9 419.8L855.1 437.5"/><path d="M866 423L855.1 437.5"/><path d="M872.3 435.9L855.1 437.5"/>
<path d="M855.1 437.5L798.3 458.9"/><path d="M862 393.7L798.3 458.9"/>
<path d="M748.9 360.7L722.3 427.1"/><path d="M762.3 367.7L722.3 427.1"/><path d="M767 335.2L722.3 427.1"/><path d="M808.9 394.3L761.4 446.4"/><path d="M815.4 402.4L761.4 446.4"/>
<path d="M1029.2 387.2L997.3 440.1"/><path d="M1038.6 395L997.3 440.1"/><path d="M1063.9 394.5L1031.7 446.4"/><path d="M1091.1 442.7L1082.3 499.7"/><path d="M1102 446.6L1082.3 499.7"/>
<path d="M227 400L261 454"/><path d="M226.3 533.9L276.5 575.7"/><path d="M220.6 542.8L276.5 575.7"/>
<path d="M92.3 632.2L138.4 609.2"/><path d="M96.5 641.6L138.4 609.2"/><path d="M102.6 648.5L138.4 609.2"/><path d="M112.3 653.1L138.4 609.2"/>
<path d="M63.6 710.1L111.7 683.7"/><path d="M65.9 719L111.7 683.7"/><path d="M73.6 721.8L111.7 683.7"/><path d="M74.5 729.6L111.7 683.7"/><path d="M83.1 731L111.7 683.7"/>
<path d="M194.2 661.4L240.7 703.8"/><path d="M181.1 684.6L240.7 703.8"/>
<path d="M138.4 609.2L222 602.1"/><path d="M111.7 683.7L222 602.1"/><path d="M222 602.1L447 549"/><path d="M379.6 546L447 549"/><path d="M379.6 559L447 549"/><path d="M416 473L447 549"/>
<path d="M1121.7 677.8L1092.5 735.6"/><path d="M1130 684L1092.5 735.6"/><path d="M1120.4 720L1094.4 780"/><path d="M1136 735.6L1094.4 780"/><path d="M1132.6 797.1L1094.4 838.7"/><path d="M1139.4 805.9L1094.4 838.7"/><path d="M1130.3 835.6L1093.8 877.2"/><path d="M1137.3 845.6L1093.8 877.2"/>
<path d="M1094.4 838.7L1012.3 889.3"/><path d="M1093.8 877.2L1012.3 889.3"/>
<path d="M177 1012L197 985"/><path d="M164 1022L197 985"/><path d="M152 1035L197 985"/><path d="M193 1058L233 1003"/>
<path d="M87 1047L111 1091"/><path d="M75 1051L111 1091"/><path d="M68 1062L111 1091"/><path d="M142 1132L111 1091"/><path d="M152 1122L111 1091"/>
<path d="M183 1125L231 1108"/><path d="M190 1140L231 1108"/><path d="M200 1150L231 1108"/><path d="M212 1157L231 1108"/>
<path d="M316.1 1130.5L374.7 1104.5"/><path d="M320.4 1137.6L374.7 1104.5"/><path d="M325.1 1145.6L374.7 1104.5"/>
<path d="M295.8 1181.2L353.6 1173"/><path d="M299.7 1192.5L353.6 1173"/><path d="M302.8 1202.4L353.6 1173"/><path d="M307.5 1226.6L360.6 1209.3"/>
<path d="M435.2 1248.2L488.4 1233.5"/><path d="M440.3 1260.1L488.4 1233.5"/><path d="M533.5 1255.8L572.5 1213.2"/><path d="M545.2 1262.7L572.5 1213.2"/><path d="M727.4 1224.9L757.9 1175.4"/><path d="M739.1 1228.8L757.9 1175.4"/>
<path d="M374.7 1104.5L480.5 1033"/><path d="M418.8 1134.8L480.5 1033"/><path d="M408.3 1020.2L480.5 1033"/>
</g>
<g class="e" marker-end="url(#t7)">
<path d="M538.3 147.9L575 198.7"/><path d="M545.5 142.7L575 198.7"/><path d="M552.1 138L575 198.7"/><path d="M559.2 139.8L575 198.7"/><path d="M564.1 133.3L575 198.7"/><path d="M571.3 135.4L575 198.7"/><path d="M579.3 134.4L575 198.7"/><path d="M625.7 162.8L575 198.7"/>
<path d="M460.4 120.6L416 473"/><path d="M261 454L416 473"/><path d="M575 198.7L610.2 370.3"/>
<path d="M767 335.2L763.6 407.3"/><path d="M801.1 356L763.6 407.3"/><path d="M811.4 364.6L763.6 407.3"/>
<path d="M416 473L440 725"/><path d="M450.5 654.3L440 725"/><path d="M424 523.3L440 725"/><path d="M412.6 649.4L440 725"/><path d="M802 657L761 793"/>
<path d="M151.3 802.6L167 869.4"/><path d="M141.2 813.2L167 869.4"/><path d="M163.3 811.2L167 869.4"/><path d="M177.6 814.1L167 869.4"/><path d="M183.4 819.8L167 869.4"/><path d="M121.8 819.3L167 869.4"/><path d="M133.2 831.9L167 869.4"/><path d="M114 837.6L167 869.4"/><path d="M99.7 851.3L167 869.4"/><path d="M108.9 869.1L167 869.4"/><path d="M98.3 886.6L167 869.4"/><path d="M116.9 897.2L167 869.4"/><path d="M100.8 905.8L167 869.4"/><path d="M114 917.2L167 869.4"/><path d="M134.1 908.6L167 869.4"/><path d="M132.4 924.4L167 869.4"/><path d="M152.7 929.3L167 869.4"/><path d="M138.4 938.7L167 869.4"/><path d="M165.6 935.9L167 869.4"/><path d="M179.1 923.8L167 869.4"/>
</g>
<g class="e" marker-end="url(#t10)">
<path d="M704.5 141.4L712.2 208.3"/><path d="M718.8 141.9L712.2 208.3"/><path d="M728.8 142.7L712.2 208.3"/>
<path d="M843.6 247.9L818.3 322.1"/><path d="M876.4 274L864.5 348.2"/><path d="M913.9 263L864.5 348.2"/>
<path d="M240.7 703.8L327.5 778"/><path d="M416 473L567 610"/><path d="M499 579.9L567 610"/><path d="M509.9 583.6L567 610"/><path d="M516.1 567.8L567 610"/><path d="M495.2 579L567 610"/>
<path d="M292.8 841.9L327.5 778"/><path d="M311.4 843.3L327.5 778"/><path d="M326.6 849L327.5 778"/><path d="M383 803.2L327.5 778"/>
<path d="M562.2 1166.5L628 1071"/><path d="M572.5 1213.2L628 1071"/><path d="M907.6 538.3L802 657"/><path d="M930.8 544L802 657"/><path d="M903.5 636.2L802 657"/>
<path d="M606 820L628 1071"/><path d="M521 881L628 1071"/>
</g>
<g class="e" marker-end="url(#t11)">
<path d="M1030.6 590.3L946 691"/><path d="M416 473L397 744"/><path d="M350.4 660.2L397 744"/><path d="M418.3 546.2L397 744"/><path d="M417.7 777.5L397 744"/>
<path d="M872.4 740.9L875 792"/><path d="M820.2 789.6L875 792"/><path d="M820.2 801.9L875 792"/><path d="M817.7 811.9L875 792"/><path d="M946 691L875 792"/>
<path d="M875 792L759 899"/><path d="M761 793L759 899"/><path d="M606 820L759 899"/><path d="M534 750L759 899"/>
<path d="M664 823.4L759 899"/><path d="M668.3 834.3L759 899"/><path d="M703.6 832L759 899"/><path d="M707.7 810.5L759 899"/><path d="M733.3 834.3L759 899"/><path d="M740.5 807.6L759 899"/><path d="M771.7 832.5L759 899"/><path d="M800.5 839.1L759 899"/>
<path d="M567 610L521 881"/><path d="M551.4 884.1L521 881"/><path d="M555.2 842L521 881"/><path d="M537 846.3L521 881"/>
<path d="M902 908L800 1013"/><path d="M766.5 1065.6L800 1013"/><path d="M765.3 1076.4L800 1013"/><path d="M774.3 1074.9L800 1013"/><path d="M764.5 1038.2L800 1013"/>
</g>
<g class="e" marker-end="url(#t12)">
<path d="M416 473L534 750"/><path d="M465.5 676.7L534 750"/><path d="M555.2 800.5L534 750"/><path d="M492.1 796.2L534 750"/><path d="M508.3 786.7L534 750"/><path d="M511.4 791.9L534 750"/><path d="M585.5 733.1L534 750"/>
</g>
<g class="e" marker-end="url(#t13)">
<path d="M440 725L606 820"/><path d="M400 921L606 820"/><path d="M680 629L606 820"/><path d="M875 792L606 820"/><path d="M521 881L606 820"/>
<path d="M534 750L707 1002"/><path d="M606 820L707 1002"/><path d="M628 1071L707 1002"/><path d="M620 709L707 1002"/>
<path d="M653.6 722.2L606 820"/><path d="M593.3 755.5L606 820"/><path d="M596.7 766.7L606 820"/><path d="M597.4 780.4L606 820"/><path d="M619.2 763.2L606 820"/><path d="M628 765.5L606 820"/><path d="M641.1 754.6L606 820"/><path d="M643.3 774.7L606 820"/><path d="M669.9 776.1L606 820"/><path d="M655.2 789L606 820"/><path d="M657.7 799L606 820"/><path d="M666.1 798.2L606 820"/><path d="M663 808.5L606 820"/><path d="M574 787.6L606 820"/><path d="M563 804.8L606 820"/><path d="M660.8 841.1L606 820"/><path d="M650.5 848.6L606 820"/><path d="M625.5 892.1L606 820"/><path d="M612.1 878.7L606 820"/>
<path d="M697.4 870.6L707 1002"/><path d="M699.6 885L707 1002"/><path d="M716.1 905.9L707 1002"/><path d="M658.3 966.6L707 1002"/><path d="M663 957.4L707 1002"/><path d="M692.1 949.4L707 1002"/><path d="M698.9 928L707 1002"/>
<path d="M658.3 661.5L620 709"/><path d="M672.4 670.1L620 709"/><path d="M666.1 673.8L620 709"/>
</g>
<g class="e" marker-end="url(#t14)">
<path d="M675.5 683.9L726 756"/><path d="M728.6 713.1L726 756"/><path d="M327.5 778L400 921"/><path d="M440 725L400 921"/>
<path d="M439.6 814.2L400 921"/><path d="M427.1 876.4L400 921"/><path d="M404 836.2L400 921"/><path d="M328 862.8L400 921"/><path d="M305.5 1026.7L400 921"/>
</g>
<g class="e" marker-end="url(#t16)">
<path d="M534 750L580 991"/><path d="M521 881L580 991"/><path d="M480.5 1033L580 991"/><path d="M620 709L580 991"/>
<path d="M655.2 864.1L580 991"/><path d="M667.7 907.9L580 991"/><path d="M645.8 900.7L580 991"/><path d="M588 900.7L580 991"/><path d="M601.4 920.8L580 991"/><path d="M614.6 920.2L580 991"/><path d="M633.9 942.3L580 991"/><path d="M617.7 960.3L580 991"/><path d="M517.7 970.1L580 991"/><path d="M563.6 932.3L580 991"/><path d="M576.1 925.7L580 991"/>
</g>
<g class="e" marker-end="url(#t17)"><path d="M755.5 227.9L688 302"/></g>
<g class="e" marker-end="url(#t19)">
<path d="M843.3 832.5L902 908"/><path d="M824 868.6L902 908"/><path d="M877 985.2L902 908"/><path d="M888 978.1L902 908"/><path d="M1009.2 834.6L902 908"/><path d="M1009.7 853.7L902 908"/><path d="M1012.3 889.3L902 908"/>
</g>
<g class="e" marker-end="url(#t24)">
<path d="M447 549L673 539"/><path d="M610 498L673 539"/><path d="M678.7 382.3L673 539"/><path d="M704.5 384.9L673 539"/><path d="M722.3 427.1L673 539"/><path d="M798.3 458.9L673 539"/><path d="M855.1 437.5L673 539"/><path d="M567 317.7L673 539"/><path d="M680 629L673 539"/><path d="M620 709L673 539"/><path d="M440 725L673 539"/>
</g>
<g class="m">
<path d="M946 691L761 793" marker-end="url(#m7)" style="stroke-width:2"/><path d="M567 610L761 793" marker-end="url(#m7)" style="stroke-width:1.8"/><path d="M599.1 327.6L610.2 370.3" marker-end="url(#m7)"/><path d="M572.1 259.1L610.2 370.3" marker-end="url(#m7)"/>
<path d="M712.8 134.6L712.2 208.3" marker-end="url(#m10)" style="stroke-width:2"/><path d="M853.6 262.8L818.3 322.1" marker-end="url(#m10)"/><path d="M861.4 268.2L818.3 322.1" marker-end="url(#m10)"/><path d="M876.4 274L818.3 322.1" marker-end="url(#m10)"/><path d="M923.3 309.9L864.5 348.2" marker-end="url(#m10)"/><path d="M926.4 317.5L864.5 348.2" marker-end="url(#m10)"/><path d="M910.8 297.9L864.5 348.2" marker-end="url(#m10)"/>
<path d="M935.5 843.4L875 792" marker-end="url(#m11)" style="stroke-width:2.4"/><path d="M953 844L875 792" marker-end="url(#m11)"/><path d="M397 744L521 881" marker-end="url(#m11)"/><path d="M759 899L800 1013" marker-end="url(#m11)"/><path d="M514.6 995.3L521 881" marker-end="url(#m11)" style="stroke-width:2.4"/>
<path d="M327.5 778L606 820" marker-end="url(#m13)" style="stroke-width:1.6"/><path d="M397 744L606 820" marker-end="url(#m13)" style="stroke-width:1.8"/><path d="M567 610L606 820" marker-end="url(#m13)"/><path d="M534 750L606 820" marker-end="url(#m13)"/><path d="M946 691L606 820" marker-end="url(#m13)" style="stroke-width:2"/><path d="M761 793L606 820" marker-end="url(#m13)" style="stroke-width:2.4"/><path d="M800 1013L707 1002" marker-end="url(#m13)" style="stroke-width:2"/><path d="M759 899L707 1002" marker-end="url(#m13)"/><path d="M767 979.5L707 1002" marker-end="url(#m13)" style="stroke-width:2.5"/>
<path d="M802 657L726 756" marker-end="url(#m14)" style="stroke-width:1.8"/><path d="M946 691L726 756" marker-end="url(#m14)" style="stroke-width:1.8"/><path d="M467.6 995.4L400 921" marker-end="url(#m14)" style="stroke-width:1.8"/>
<path d="M400 921L580 991" marker-end="url(#m16)"/><path d="M467.6 995.4L580 991" marker-end="url(#m16)" style="stroke-width:1.8"/><path d="M514.6 995.3L580 991" marker-end="url(#m16)" style="stroke-width:2.6"/><path d="M606 820L580 991" marker-end="url(#m16)"/>
<path d="M672.4 223.2L688 302" marker-end="url(#m17)" style="stroke-width:2.2"/>
<path d="M606 820L902 908" marker-end="url(#m19)" style="stroke-width:1.8"/><path d="M935.5 843.4L902 908" marker-end="url(#m19)" style="stroke-width:2.6"/><path d="M953 844L902 908" marker-end="url(#m19)"/>
<path d="M712.2 208.3L673 539" marker-end="url(#m24)" style="stroke-width:2"/><path d="M610.2 370.3L673 539" marker-end="url(#m24)" style="stroke-width:1.8"/><path d="M641.5 376.3L673 539" marker-end="url(#m24)" style="stroke-width:1.5"/><path d="M416 473L673 539" marker-end="url(#m24)" style="stroke-width:1.1"/>
</g>
<g class="k">
<path d="M818.3 322.1L763.6 407.3" marker-end="url(#k7)" style="stroke-width:3"/><path d="M864.5 348.2L761.4 446.4" marker-end="url(#k6)" style="stroke-width:3"/>
</g>
<g class="k" marker-end="url(#k24)">
<path d="M688 302L673 539" style="stroke-width:3.5"/><path d="M763.6 407.3L673 539" style="stroke-width:3"/><path d="M761.4 446.4L673 539" style="stroke-width:3"/><path d="M567 610L673 539" style="stroke-width:4"/><path d="M327.5 778L673 539" style="stroke-width:3.2"/><path d="M397 744L673 539" style="stroke-width:3.5"/><path d="M534 750L673 539" style="stroke-width:3"/><path d="M400 921L673 539" style="stroke-width:3"/><path d="M606 820L673 539" style="stroke-width:3.2"/><path d="M580 991L673 539" style="stroke-width:3.2"/><path d="M628 1071L673 539" style="stroke-width:2.6"/><path d="M707 1002L673 539" style="stroke-width:3.4"/><path d="M759 899L673 539" style="stroke-width:3.6"/><path d="M800 1013L673 539" style="stroke-width:2.4"/><path d="M902 908L673 539" style="stroke-width:2.8"/><path d="M946 691L673 539" style="stroke-width:2.8"/><path d="M802 657L673 539" style="stroke-width:3.5"/><path d="M726 756L673 539" style="stroke-width:2.2"/><path d="M875 792L673 539" style="stroke-width:2.2"/><path d="M521 881L673 539" style="stroke-width:2.4"/>
</g>
</g>
<g id="nodes">
<g id="fanA" transform="translate(416 473)">
<circle id="a1" class="d" r="5" cx="90" transform="rotate(171)"/><circle id="a2" class="d" r="4.4" cx="95" transform="rotate(179)"/><circle id="a3" class="u" r="5" cx="90" transform="rotate(187)"/><circle id="a4" class="d" r="4.4" cx="95" transform="rotate(195)"/><circle id="a5" class="d" r="5" cx="90" transform="rotate(203)"/><circle id="a6" class="d" r="4.4" cx="95" transform="rotate(211)"/><circle id="a7" class="d" r="5" cx="90" transform="rotate(219)"/><circle id="a8" class="d" r="4.4" cx="95" transform="rotate(227)"/><circle id="a9" class="d" r="5" cx="90" transform="rotate(235)"/><circle id="a10" class="d" r="4.4" cx="95" transform="rotate(243)"/><circle id="a11" class="d" r="5" cx="90" transform="rotate(251)"/><circle id="a12" class="d" r="4.4" cx="95" transform="rotate(259)"/><circle id="a13" class="u" r="5" cx="90" transform="rotate(267)"/><circle id="a14" class="u" r="5.2" cx="95" transform="rotate(275)"/><circle id="a15" class="d" r="5" cx="90" transform="rotate(283)"/>
<circle id="a16" class="d" r="5" cx="74" transform="rotate(132)"/><circle id="a17" class="d" r="4.4" cx="79" transform="rotate(140)"/><circle id="a18" class="d" r="5" cx="74" transform="rotate(148)"/><circle id="a19" class="d" r="4.4" cx="79" transform="rotate(156)"/><circle id="a20" class="d" r="5" cx="74" transform="rotate(164)"/><circle id="a21" class="d" r="4.4" cx="79" transform="rotate(172)"/><circle id="a22" class="d" r="5" cx="74" transform="rotate(180)"/><circle id="a23" class="d" r="4.4" cx="79" transform="rotate(188)"/><circle id="a24" class="d" r="5" cx="74" transform="rotate(196)"/><circle id="a25" class="d" r="4.4" cx="79" transform="rotate(204)"/><circle id="a26" class="d" r="5" cx="74" transform="rotate(212)"/><circle id="a27" class="d" r="4.4" cx="79" transform="rotate(220)"/><circle id="a28" class="d" r="5" cx="74" transform="rotate(228)"/><circle id="a29" class="d" r="4.4" cx="79" transform="rotate(236)"/><circle id="a30" class="d" r="5" cx="74" transform="rotate(244)"/><circle id="a31" class="d" r="4.4" cx="79" transform="rotate(252)"/><circle id="a32" class="d" r="5" cx="74" transform="rotate(260)"/><circle id="a33" class="d" r="4.4" cx="79" transform="rotate(268)"/><circle id="a34" class="d" r="5" cx="74" transform="rotate(276)"/><circle id="a35" class="d" r="4.4" cx="79" transform="rotate(284)"/><circle id="a36" class="u" r="5.2" cx="74" transform="rotate(292)"/><circle id="a37" class="u" r="5" cx="79" transform="rotate(300)"/><circle id="a38" class="d" r="5" cx="74" transform="rotate(308)"/><circle id="a39" class="d" r="4.4" cx="79" transform="rotate(316)"/><circle id="a40" class="d" r="5" cx="74" transform="rotate(324)"/><circle id="a41" class="d" r="4.4" cx="79" transform="rotate(332)"/><circle id="a42" class="d" r="5" cx="74" transform="rotate(340)"/>
<circle id="a43" class="d" r="5" cx="56" transform="rotate(130)"/><circle id="a44" class="d" r="4.4" cx="61" transform="rotate(140)"/><circle id="a45" class="d" r="5" cx="56" transform="rotate(150)"/><circle id="a46" class="d" r="4.4" cx="61" transform="rotate(160)"/><circle id="a47" class="d" r="5" cx="56" transform="rotate(170)"/><circle id="a48" class="d" r="4.4" cx="61" transform="rotate(180)"/><circle id="a49" class="d" r="5" cx="56" transform="rotate(190)"/><circle id="a50" class="u" r="5" cx="61" transform="rotate(200)"/><circle id="a51" class="d" r="5" cx="56" transform="rotate(210)"/><circle id="a52" class="d" r="4.4" cx="61" transform="rotate(220)"/><circle id="a53" class="d" r="5" cx="56" transform="rotate(230)"/><circle id="a54" class="d" r="4.4" cx="61" transform="rotate(240)"/><circle id="a55" class="d" r="5" cx="56" transform="rotate(250)"/><circle id="a56" class="d" r="4.4" cx="61" transform="rotate(260)"/><circle id="a57" class="d" r="5" cx="56" transform="rotate(270)"/><circle id="a58" class="d" r="4.4" cx="61" transform="rotate(280)"/><circle id="a59" class="d" r="5" cx="56" transform="rotate(290)"/><circle id="a60" class="d" r="4.4" cx="61" transform="rotate(300)"/><circle id="a61" class="d" r="5" cx="56" transform="rotate(310)"/><circle id="a62" class="d" r="4.4" cx="61" transform="rotate(320)"/><circle id="a63" class="u" r="5.2" cx="56" transform="rotate(330)"/><circle id="a64" class="d" r="4.4" cx="61" transform="rotate(340)"/><circle id="a65" class="d" r="5" cx="56" transform="rotate(350)"/><circle id="a66" class="u" r="5" cx="61" transform="rotate(360)"/>
<circle id="a67" class="d" r="5" cx="38" transform="rotate(150)"/><circle id="a68" class="d" r="4.4" cx="43" transform="rotate(165)"/><circle id="a69" class="d" r="5" cx="38" transform="rotate(180)"/><circle id="a70" class="d" r="4.4" cx="43" transform="rotate(195)"/><circle id="a71" class="d" r="5" cx="38" transform="rotate(210)"/><circle id="a72" class="u" r="5" cx="43" transform="rotate(225)"/><circle id="a73" class="d" r="5" cx="38" transform="rotate(240)"/><circle id="a74" class="d" r="4.4" cx="43" transform="rotate(255)"/><circle id="a75" class="d" r="5" cx="38" transform="rotate(270)"/><circle id="a76" class="d" r="4.4" cx="43" transform="rotate(285)"/><circle id="a77" class="d" r="5" cx="38" transform="rotate(300)"/>
</g>
<g id="fanH14" transform="translate(567 610)">
<circle id="b1" class="d" r="5" cx="73" transform="rotate(232)"/><circle id="b2" class="d" r="4.4" cx="78" transform="rotate(240)"/><circle id="b3" class="d" r="5" cx="73" transform="rotate(248)"/><circle id="b4" class="d" r="4.4" cx="78" transform="rotate(256)"/><circle id="b5" class="d" r="5" cx="73" transform="rotate(264)"/><circle id="b6" class="d" r="4.4" cx="78" transform="rotate(272)"/><circle id="b7" class="d" r="5" cx="73" transform="rotate(280)"/>
<circle id="b8" class="d" r="4.4" cx="64" transform="rotate(225)"/><circle id="b9" class="d" r="5" cx="60" transform="rotate(235)"/><circle id="b10" class="u" r="5" cx="64" transform="rotate(245)"/><circle id="b11" class="u" r="5" cx="60" transform="rotate(255)"/><circle id="b12" class="d" r="4.4" cx="64" transform="rotate(265)"/><circle id="b13" class="d" r="5" cx="60" transform="rotate(275)"/><circle id="b14" class="d" r="4.4" cx="64" transform="rotate(285)"/>
<circle id="b15" class="d" r="4.6" cx="50" transform="rotate(218)"/><circle id="b16" class="d" r="4.6" cx="48" transform="rotate(250)"/><circle id="b17" class="d" r="4.6" cx="50" transform="rotate(270)"/><circle id="b18" class="d" r="5" cx="68" transform="rotate(203)"/><circle id="b19" class="d" r="4.4" cx="70" transform="rotate(212)"/>
</g>
<g id="fanH13" transform="translate(802 657)">
<circle id="c1" class="d" r="5" cx="93" transform="rotate(262)"/><circle id="c2" class="d" r="4.4" cx="98" transform="rotate(270)"/><circle id="c3" class="d" r="5" cx="93" transform="rotate(278)"/><circle id="c4" class="d" r="4.4" cx="98" transform="rotate(286)"/><circle id="c5" class="d" r="5" cx="93" transform="rotate(294)"/><circle id="c6" class="d" r="4.4" cx="98" transform="rotate(302)"/><circle id="c7" class="d" r="5" cx="93" transform="rotate(310)"/><circle id="c8" class="d" r="4.4" cx="98" transform="rotate(318)"/><circle id="c9" class="d" r="5" cx="93" transform="rotate(326)"/><circle id="c10" class="d" r="4.4" cx="98" transform="rotate(334)"/>
<circle id="c11" class="d" r="5" cx="78" transform="rotate(255)"/><circle id="c12" class="d" r="4.4" cx="83" transform="rotate(263)"/><circle id="c13" class="d" r="5" cx="78" transform="rotate(271)"/><circle id="c14" class="d" r="4.4" cx="83" transform="rotate(279)"/><circle id="c15" class="d" r="5" cx="78" transform="rotate(287)"/><circle id="c16" class="d" r="4.4" cx="83" transform="rotate(295)"/><circle id="c17" class="d" r="5" cx="78" transform="rotate(303)"/><circle id="c18" class="d" r="4.4" cx="83" transform="rotate(311)"/><circle id="c19" class="d" r="5" cx="78" transform="rotate(319)"/><circle id="c20" class="d" r="4.4" cx="83" transform="rotate(327)"/><circle id="c21" class="d" r="5" cx="78" transform="rotate(335)"/><circle id="c22" class="d" r="4.4" cx="83" transform="rotate(343)"/><circle id="c23" class="d" r="5" cx="78" transform="rotate(351)"/>
<circle id="c24" class="d" r="5" cx="62" transform="rotate(250)"/><circle id="c25" class="d" r="4.4" cx="67" transform="rotate(260)"/><circle id="c26" class="d" r="5" cx="62" transform="rotate(270)"/><circle id="c27" class="d" r="4.4" cx="67" transform="rotate(280)"/><circle id="c28" class="u" r="5.2" cx="62" transform="rotate(290)"/><circle id="c29" class="d" r="4.4" cx="67" transform="rotate(300)"/><circle id="c30" class="d" r="5" cx="62" transform="rotate(310)"/><circle id="c31" class="d" r="4.4" cx="67" transform="rotate(320)"/><circle id="c32" class="d" r="5" cx="62" transform="rotate(330)"/><circle id="c33" class="d" r="4.4" cx="67" transform="rotate(340)"/><circle id="c34" class="d" r="5" cx="62" transform="rotate(350)"/><circle id="c35" class="d" r="4.4" cx="67" transform="rotate(360)"/><circle id="c36" class="d" r="5" cx="62" transform="rotate(370)"/><circle id="c37" class="d" r="4.4" cx="67" transform="rotate(380)"/><circle id="c38" class="d" r="5" cx="62" transform="rotate(390)"/>
<circle id="c39" class="d" r="5" cx="46" transform="rotate(270)"/><circle id="c40" class="d" r="4.4" cx="51" transform="rotate(285)"/><circle id="c41" class="d" r="5" cx="46" transform="rotate(300)"/><circle id="c42" class="d" r="4.4" cx="51" transform="rotate(315)"/><circle id="c43" class="u" r="5" cx="46" transform="rotate(330)"/><circle id="c44" class="d" r="4.4" cx="51" transform="rotate(345)"/><circle id="c45" class="d" r="5" cx="46" transform="rotate(360)"/><circle id="c46" class="d" r="4.4" cx="51" transform="rotate(375)"/>
</g>
<g id="fanH12" transform="translate(946 691)">
<circle id="e1" class="d" r="5" cx="78" transform="rotate(-66)"/><circle id="e2" class="d" r="4.4" cx="83" transform="rotate(-57)"/><circle id="e3" class="d" r="5" cx="78" transform="rotate(-48)"/><circle id="e4" class="d" r="4.4" cx="83" transform="rotate(-39)"/><circle id="e5" class="d" r="5" cx="78" transform="rotate(-30)"/><circle id="e6" class="d" r="4.4" cx="83" transform="rotate(-21)"/><circle id="e7" class="d" r="5" cx="78" transform="rotate(-12)"/><circle id="e8" class="u" r="5" cx="83" transform="rotate(-3)"/><circle id="e9" class="d" r="5" cx="78" transform="rotate(6)"/><circle id="e10" class="d" r="4.4" cx="83" transform="rotate(15)"/>
<circle id="e11" class="u" r="5" cx="63" transform="rotate(-60)"/><circle id="e12" class="d" r="4.4" cx="68" transform="rotate(-50)"/><circle id="e13" class="d" r="5" cx="63" transform="rotate(-40)"/><circle id="e14" class="d" r="4.4" cx="68" transform="rotate(-30)"/><circle id="e15" class="u" r="5" cx="63" transform="rotate(-20)"/><circle id="e16" class="d" r="4.4" cx="68" transform="rotate(-10)"/><circle id="e17" class="d" r="5" cx="63" transform="rotate(0)"/><circle id="e18" class="u" r="5" cx="68" transform="rotate(10)"/><circle id="e19" class="d" r="5" cx="63" transform="rotate(20)"/><circle id="e20" class="d" r="4.4" cx="68" transform="rotate(28)"/>
<circle id="e21" class="d" r="5" cx="48" transform="rotate(-65)"/><circle id="e22" class="d" r="4.4" cx="52" transform="rotate(-45)"/><circle id="e23" class="d" r="5" cx="48" transform="rotate(-25)"/><circle id="e24" class="d" r="4.4" cx="52" transform="rotate(-5)"/><circle id="e25" class="d" r="5" cx="48" transform="rotate(15)"/>
</g>
<g id="fanH11" transform="translate(875 792)">
<circle id="f1" class="d" r="5" cx="76" transform="rotate(-30)"/><circle id="f2" class="d" r="4.4" cx="81" transform="rotate(-20)"/><circle id="f3" class="d" r="5" cx="76" transform="rotate(-10)"/><circle id="f4" class="d" r="4.4" cx="81" transform="rotate(0)"/><circle id="f5" class="d" r="5" cx="76" transform="rotate(10)"/><circle id="f6" class="d" r="4.4" cx="81" transform="rotate(20)"/>
<circle id="f7" class="d" r="5" cx="62" transform="rotate(-40)"/><circle id="f8" class="d" r="4.4" cx="66" transform="rotate(-30)"/><circle id="f9" class="d" r="5" cx="62" transform="rotate(-20)"/><circle id="f10" class="d" r="4.4" cx="66" transform="rotate(-10)"/><circle id="f11" class="u" r="5" cx="62" transform="rotate(0)"/><circle id="f12" class="d" r="4.4" cx="66" transform="rotate(10)"/><circle id="f13" class="u" r="5" cx="62" transform="rotate(20)"/><circle id="f14" class="d" r="4.4" cx="66" transform="rotate(30)"/>
<circle id="f15" class="d" r="5" cx="50" transform="rotate(-35)"/><circle id="f16" class="d" r="4.4" cx="53" transform="rotate(-15)"/><circle id="f17" class="d" r="5" cx="50" transform="rotate(5)"/><circle id="f18" class="d" r="4.4" cx="53" transform="rotate(25)"/>
</g>
<g id="fanH10" transform="translate(902 908)">
<circle id="g1" class="d" r="5" cx="74" transform="rotate(-20)"/><circle id="g2" class="d" r="4.4" cx="79" transform="rotate(-12)"/><circle id="g3" class="d" r="5" cx="74" transform="rotate(-4)"/><circle id="g4" class="d" r="4.4" cx="79" transform="rotate(4)"/><circle id="g5" class="d" r="5" cx="74" transform="rotate(12)"/><circle id="g6" class="d" r="4.4" cx="79" transform="rotate(20)"/><circle id="g7" class="d" r="5" cx="74" transform="rotate(28)"/><circle id="g8" class="d" r="4.4" cx="79" transform="rotate(36)"/><circle id="g9" class="d" r="5" cx="74" transform="rotate(44)"/><circle id="g10" class="d" r="4.4" cx="79" transform="rotate(52)"/><circle id="g11" class="d" r="5" cx="74" transform="rotate(60)"/><circle id="g12" class="d" r="4.4" cx="79" transform="rotate(68)"/><circle id="g13" class="d" r="5" cx="74" transform="rotate(76)"/>
<circle id="g14" class="d" r="5" cx="61" transform="rotate(-25)"/><circle id="g15" class="d" r="4.4" cx="65" transform="rotate(-15)"/><circle id="g16" class="d" r="5" cx="61" transform="rotate(-5)"/><circle id="g17" class="u" r="5" cx="65" transform="rotate(5)"/><circle id="g18" class="d" r="5" cx="61" transform="rotate(15)"/><circle id="g19" class="d" r="4.4" cx="65" transform="rotate(25)"/><circle id="g20" class="d" r="5" cx="61" transform="rotate(35)"/><circle id="g21" class="u" r="5" cx="65" transform="rotate(45)"/><circle id="g22" class="u" r="5" cx="61" transform="rotate(55)"/><circle id="g23" class="d" r="4.4" cx="65" transform="rotate(65)"/><circle id="g24" class="d" r="5" cx="61" transform="rotate(75)"/><circle id="g25" class="d" r="4.4" cx="65" transform="rotate(85)"/>
<circle id="g26" class="d" r="5" cx="49" transform="rotate(30)"/><circle id="g27" class="d" r="4.4" cx="51" transform="rotate(45)"/><circle id="g28" class="d" r="5" cx="49" transform="rotate(60)"/><circle id="g29" class="u" r="5" cx="51" transform="rotate(75)"/>
</g>
<g id="fanH20" transform="translate(759 899)">
<circle id="h1" class="d" r="5" cx="56" transform="rotate(-14)"/><circle id="h2" class="d" r="4.4" cx="60" transform="rotate(-5)"/><circle id="h3" class="d" r="5" cx="56" transform="rotate(4)"/><circle id="h4" class="d" r="4.4" cx="60" transform="rotate(13)"/><circle id="h5" class="d" r="5" cx="56" transform="rotate(22)"/><circle id="h6" class="u" r="5" cx="60" transform="rotate(31)"/><circle id="h7" class="d" r="5" cx="56" transform="rotate(40)"/><circle id="h8" class="d" r="4.4" cx="60" transform="rotate(49)"/><circle id="h9" class="d" r="5" cx="56" transform="rotate(58)"/><circle id="h10" class="d" r="4.4" cx="60" transform="rotate(67)"/><circle id="h11" class="d" r="5" cx="56" transform="rotate(75)"/>
<circle id="h12" class="d" r="4.4" cx="70" transform="rotate(-8)"/><circle id="h13" class="d" r="5" cx="67" transform="rotate(5)"/><circle id="h14" class="u" r="5" cx="70" transform="rotate(18)"/><circle id="h15" class="d" r="5" cx="67" transform="rotate(31)"/><circle id="h16" class="d" r="4.4" cx="70" transform="rotate(44)"/><circle id="h17" class="u" r="5" cx="67" transform="rotate(57)"/>
</g>
<g id="fanH19" transform="translate(726 756)">
<circle id="i1" class="u" r="5" cx="62" transform="rotate(-40)"/><circle id="i2" class="d" r="4.4" cx="60" transform="rotate(-28)"/><circle id="i3" class="d" r="5" cx="62" transform="rotate(-16)"/><circle id="i4" class="u" r="5" cx="60" transform="rotate(-4)"/><circle id="i5" class="d" r="4.6" cx="62" transform="rotate(8)"/>
<circle id="i6" class="d" r="4.6" cx="72" transform="rotate(-34)"/><circle id="i7" class="d" r="4.6" cx="74" transform="rotate(-20)"/><circle id="i8" class="d" r="4.6" cx="72" transform="rotate(-8)"/><circle id="i9" class="d" r="4.6" cx="74" transform="rotate(4)"/>
</g>
<g id="fanH21" transform="translate(620 709)">
<circle id="j1" class="d" r="5" cx="60" transform="rotate(242)"/><circle id="j2" class="d" r="4.4" cx="64" transform="rotate(252)"/><circle id="j3" class="d" r="5" cx="60" transform="rotate(262)"/><circle id="j4" class="d" r="4.4" cx="64" transform="rotate(272)"/><circle id="j5" class="u" r="5.2" cx="60" transform="rotate(282)"/><circle id="j6" class="d" r="4.4" cx="64" transform="rotate(292)"/>
<circle id="j7" class="d" r="4.6" cx="50" transform="rotate(250)"/><circle id="j8" class="d" r="4.6" cx="48" transform="rotate(270)"/><circle id="j9" class="d" r="4.6" cx="50" transform="rotate(290)"/>
</g>
<g id="fanH16" transform="translate(534 750)">
<circle id="k1" class="d" r="5" cx="78" transform="rotate(215)"/><circle id="k2" class="d" r="4.4" cx="83" transform="rotate(223)"/><circle id="k3" class="d" r="5" cx="78" transform="rotate(231)"/><circle id="k4" class="d" r="4.4" cx="83" transform="rotate(239)"/><circle id="k5" class="d" r="5" cx="78" transform="rotate(247)"/><circle id="k6" class="d" r="4.4" cx="83" transform="rotate(255)"/><circle id="k7" class="u" r="5" cx="78" transform="rotate(263)"/><circle id="k8" class="d" r="4.4" cx="83" transform="rotate(271)"/><circle id="k9" class="d" r="5" cx="78" transform="rotate(279)"/>
<circle id="k10" class="u" r="5" cx="66" transform="rotate(150)"/><circle id="k11" class="d" r="4.4" cx="71" transform="rotate(160)"/><circle id="k12" class="d" r="5" cx="66" transform="rotate(170)"/><circle id="k13" class="d" r="4.4" cx="71" transform="rotate(180)"/><circle id="k14" class="d" r="5" cx="66" transform="rotate(190)"/><circle id="k15" class="d" r="4.4" cx="71" transform="rotate(200)"/><circle id="k16" class="d" r="5" cx="66" transform="rotate(210)"/><circle id="k17" class="d" r="4.4" cx="71" transform="rotate(225)"/><circle id="k18" class="d" r="5" cx="66" transform="rotate(240)"/><circle id="k19" class="d" r="4.4" cx="71" transform="rotate(255)"/><circle id="k20" class="d" r="5" cx="66" transform="rotate(270)"/><circle id="k21" class="d" r="4.4" cx="71" transform="rotate(285)"/><circle id="k22" class="u" r="5" cx="66" transform="rotate(295)"/>
<circle id="k23" class="d" r="5" cx="53" transform="rotate(170)"/><circle id="k24" class="d" r="4.4" cx="57" transform="rotate(190)"/><circle id="k25" class="d" r="5" cx="53" transform="rotate(210)"/><circle id="k26" class="d" r="4.4" cx="57" transform="rotate(230)"/><circle id="k27" class="d" r="5" cx="53" transform="rotate(250)"/><circle id="k28" class="d" r="4.4" cx="57" transform="rotate(270)"/><circle id="k29" class="d" r="5" cx="53" transform="rotate(290)"/>
<circle id="k30" class="d" r="4.6" cx="42" transform="rotate(200)"/><circle id="k31" class="d" r="4.6" cx="40" transform="rotate(230)"/><circle id="k32" class="d" r="4.6" cx="42" transform="rotate(260)"/>
</g>
<g id="fanH17" transform="translate(606 820)">
<circle id="l1" class="u" r="5" cx="58" transform="rotate(100)"/><circle id="l2" class="d" r="4.4" cx="62" transform="rotate(110)"/><circle id="l3" class="d" r="5" cx="58" transform="rotate(120)"/><circle id="l4" class="d" r="4.4" cx="62" transform="rotate(130)"/><circle id="l5" class="d" r="5" cx="58" transform="rotate(140)"/><circle id="l6" class="u" r="5" cx="62" transform="rotate(150)"/><circle id="l7" class="d" r="5" cx="58" transform="rotate(160)"/><circle id="l8" class="d" r="4.4" cx="62" transform="rotate(170)"/><circle id="l9" class="d" r="5" cx="58" transform="rotate(180)"/>
<circle id="l10" class="d" r="4.6" cx="72" transform="rotate(115)"/><circle id="l11" class="d" r="4.6" cx="74" transform="rotate(135)"/><circle id="l12" class="d" r="4.6" cx="72" transform="rotate(155)"/>
</g>
<g id="fanH18" transform="translate(521 881)">
<circle id="m1" class="d" r="5" cx="68" transform="rotate(100)"/><circle id="m2" class="u" r="5" cx="72" transform="rotate(110)"/><circle id="m3" class="d" r="5" cx="68" transform="rotate(120)"/><circle id="m4" class="u" r="5" cx="72" transform="rotate(130)"/><circle id="m5" class="d" r="5" cx="68" transform="rotate(140)"/><circle id="m6" class="d" r="4.4" cx="72" transform="rotate(150)"/><circle id="m7" class="d" r="5" cx="68" transform="rotate(160)"/><circle id="m8" class="d" r="4.4" cx="72" transform="rotate(170)"/><circle id="m9" class="d" r="5" cx="68" transform="rotate(180)"/><circle id="m10" class="d" r="4.4" cx="72" transform="rotate(190)"/><circle id="m11" class="d" r="5" cx="68" transform="rotate(200)"/>
<circle id="m12" class="d" r="4.6" cx="54" transform="rotate(145)"/><circle id="m13" class="d" r="4.6" cx="57" transform="rotate(165)"/><circle id="m14" class="d" r="4.6" cx="54" transform="rotate(185)"/><circle id="m15" class="d" r="4.6" cx="57" transform="rotate(205)"/>
<circle id="m16" class="d" r="4.6" cx="36" transform="rotate(195)"/><circle id="m17" class="d" r="4.6" cx="38" transform="rotate(210)"/><circle id="m18" class="d" r="4.6" cx="36" transform="rotate(222)"/>
</g>
<g id="fanH4" transform="translate(400 921)">
<circle id="n1" class="d" r="5" cx="83" transform="rotate(120)"/><circle id="n2" class="d" r="4.4" cx="88" transform="rotate(128)"/><circle id="n3" class="d" r="5" cx="83" transform="rotate(136)"/><circle id="n4" class="d" r="4.4" cx="88" transform="rotate(144)"/><circle id="n5" class="d" r="5" cx="83" transform="rotate(152)"/><circle id="n6" class="d" r="4.4" cx="88" transform="rotate(160)"/><circle id="n7" class="d" r="5" cx="83" transform="rotate(168)"/><circle id="n8" class="d" r="4.4" cx="88" transform="rotate(176)"/><circle id="n9" class="d" r="5" cx="83" transform="rotate(184)"/>
<circle id="n10" class="d" r="5" cx="70" transform="rotate(100)"/><circle id="n11" class="d" r="4.4" cx="74" transform="rotate(110)"/><circle id="n12" class="d" r="5" cx="70" transform="rotate(120)"/><circle id="n13" class="u" r="5" cx="74" transform="rotate(130)"/><circle id="n14" class="d" r="5" cx="70" transform="rotate(140)"/><circle id="n15" class="d" r="4.4" cx="74" transform="rotate(150)"/><circle id="n16" class="d" r="5" cx="70" transform="rotate(160)"/><circle id="n17" class="u" r="5" cx="74" transform="rotate(170)"/><circle id="n18" class="d" r="5" cx="70" transform="rotate(180)"/><circle id="n19" class="d" r="4.4" cx="74" transform="rotate(190)"/><circle id="n20" class="d" r="5" cx="70" transform="rotate(200)"/>
<circle id="n21" class="u" r="5" cx="58" transform="rotate(88)"/><circle id="n22" class="u" r="5" cx="62" transform="rotate(96)"/><circle id="n23" class="d" r="5" cx="58" transform="rotate(104)"/><circle id="n24" class="d" r="4.4" cx="62" transform="rotate(112)"/><circle id="n25" class="d" r="5" cx="58" transform="rotate(125)"/><circle id="n26" class="d" r="4.4" cx="62" transform="rotate(140)"/><circle id="n27" class="d" r="5" cx="58" transform="rotate(155)"/><circle id="n28" class="d" r="4.4" cx="62" transform="rotate(170)"/><circle id="n29" class="u" r="5" cx="58" transform="rotate(185)"/><circle id="n30" class="d" r="4.4" cx="62" transform="rotate(200)"/><circle id="n31" class="d" r="5" cx="58" transform="rotate(210)"/>
<circle id="n32" class="d" r="4.6" cx="88" transform="rotate(104)"/><circle id="n33" class="d" r="4.6" cx="90" transform="rotate(112)"/>
</g>
<g id="fanH1" transform="translate(327.5 778)">
<circle id="o1" class="d" r="5" cx="73" transform="rotate(150)"/><circle id="o2" class="d" r="4.4" cx="78" transform="rotate(160)"/><circle id="o3" class="d" r="5" cx="73" transform="rotate(170)"/><circle id="o4" class="u" r="5" cx="78" transform="rotate(180)"/><circle id="o5" class="d" r="5" cx="73" transform="rotate(190)"/><circle id="o6" class="u" r="5" cx="78" transform="rotate(200)"/><circle id="o7" class="d" r="5" cx="73" transform="rotate(210)"/><circle id="o8" class="d" r="4.4" cx="78" transform="rotate(220)"/>
<circle id="o9" class="d" r="5" cx="60" transform="rotate(135)"/><circle id="o10" class="d" r="4.4" cx="64" transform="rotate(145)"/><circle id="o11" class="d" r="5" cx="60" transform="rotate(155)"/><circle id="o12" class="u" r="5" cx="64" transform="rotate(165)"/><circle id="o13" class="d" r="5" cx="60" transform="rotate(175)"/><circle id="o14" class="d" r="4.4" cx="64" transform="rotate(185)"/><circle id="o15" class="d" r="5" cx="60" transform="rotate(195)"/><circle id="o16" class="u" r="5" cx="64" transform="rotate(205)"/><circle id="o17" class="d" r="5" cx="60" transform="rotate(215)"/><circle id="o18" class="d" r="4.4" cx="64" transform="rotate(225)"/><circle id="o19" class="d" r="5" cx="60" transform="rotate(232)"/>
<circle id="o20" class="d" r="4.6" cx="50" transform="rotate(150)"/><circle id="o21" class="d" r="4.6" cx="48" transform="rotate(190)"/>
</g>
<g id="fanH2" transform="translate(397 744)">
<circle id="p1" class="d" r="5" cx="74" transform="rotate(200)"/><circle id="p2" class="d" r="4.4" cx="79" transform="rotate(208)"/><circle id="p3" class="d" r="5" cx="74" transform="rotate(216)"/><circle id="p4" class="d" r="4.4" cx="79" transform="rotate(224)"/><circle id="p5" class="d" r="5" cx="74" transform="rotate(232)"/><circle id="p6" class="d" r="4.4" cx="79" transform="rotate(240)"/>
<circle id="p7" class="d" r="5" cx="62" transform="rotate(196)"/><circle id="p8" class="d" r="4.4" cx="66" transform="rotate(206)"/><circle id="p9" class="u" r="5" cx="62" transform="rotate(216)"/><circle id="p10" class="d" r="4.4" cx="66" transform="rotate(226)"/><circle id="p11" class="d" r="5" cx="62" transform="rotate(236)"/>
</g>
<g id="fanH3" transform="translate(440 725)">
<circle id="q1" class="d" r="5" cx="72" transform="rotate(215)"/><circle id="q2" class="u" r="5" cx="77" transform="rotate(222)"/><circle id="q3" class="d" r="5" cx="72" transform="rotate(229)"/><circle id="q4" class="d" r="4.4" cx="77" transform="rotate(236)"/><circle id="q5" class="d" r="5" cx="72" transform="rotate(243)"/><circle id="q6" class="d" r="4.4" cx="77" transform="rotate(250)"/>
<circle id="q7" class="d" r="5" cx="60" transform="rotate(205)"/><circle id="q8" class="u" r="5" cx="63" transform="rotate(215)"/><circle id="q9" class="d" r="5" cx="60" transform="rotate(225)"/><circle id="q10" class="d" r="4.4" cx="63" transform="rotate(235)"/><circle id="q11" class="d" r="5" cx="60" transform="rotate(245)"/>
<circle id="q12" class="d" r="4.6" cx="50" transform="rotate(210)"/><circle id="q13" class="d" r="4.6" cx="52" transform="rotate(230)"/>
</g>
<g id="fanH5" transform="translate(580 991)">
<circle id="r1" class="d" r="5" cx="78" transform="rotate(92)"/><circle id="r2" class="d" r="4.4" cx="83" transform="rotate(100)"/><circle id="r3" class="d" r="5" cx="78" transform="rotate(108)"/><circle id="r4" class="d" r="4.4" cx="83" transform="rotate(116)"/><circle id="r5" class="d" r="5" cx="78" transform="rotate(124)"/><circle id="r6" class="d" r="4.4" cx="83" transform="rotate(132)"/>
<circle id="r7" class="d" r="5" cx="66" transform="rotate(80)"/><circle id="r8" class="u" r="5" cx="70" transform="rotate(90)"/><circle id="r9" class="d" r="5" cx="66" transform="rotate(100)"/><circle id="r10" class="d" r="4.4" cx="70" transform="rotate(110)"/><circle id="r11" class="u" r="5" cx="66" transform="rotate(120)"/><circle id="r12" class="d" r="4.4" cx="70" transform="rotate(130)"/><circle id="r13" class="d" r="5" cx="66" transform="rotate(140)"/><circle id="r14" class="d" r="4.4" cx="70" transform="rotate(148)"/>
<circle id="r15" class="d" r="4.6" cx="54" transform="rotate(95)"/><circle id="r16" class="d" r="4.6" cx="56" transform="rotate(115)"/><circle id="r17" class="d" r="4.6" cx="54" transform="rotate(135)"/>
</g>
<g id="fanH6" transform="translate(707 1002)">
<circle id="s1" class="d" r="5" cx="70" transform="rotate(52)"/><circle id="s2" class="d" r="4.4" cx="75" transform="rotate(60)"/><circle id="s3" class="d" r="5" cx="70" transform="rotate(68)"/><circle id="s4" class="d" r="4.4" cx="75" transform="rotate(76)"/><circle id="s5" class="u" r="5" cx="70" transform="rotate(84)"/><circle id="s6" class="d" r="4.4" cx="75" transform="rotate(92)"/><circle id="s7" class="d" r="5" cx="70" transform="rotate(100)"/><circle id="s8" class="d" r="4.4" cx="75" transform="rotate(108)"/>
<circle id="s9" class="d" r="4.6" cx="60" transform="rotate(56)"/><circle id="s10" class="d" r="4.6" cx="62" transform="rotate(70)"/><circle id="s11" class="d" r="4.6" cx="60" transform="rotate(85)"/><circle id="s12" class="u" r="5" cx="62" transform="rotate(100)"/>
</g>
<g id="fanH7" transform="translate(800 1013)">
<circle id="v1" class="d" r="5" cx="72" transform="rotate(25)"/><circle id="v2" class="d" r="4.4" cx="77" transform="rotate(33)"/><circle id="v3" class="d" r="5" cx="72" transform="rotate(41)"/><circle id="v4" class="d" r="4.4" cx="77" transform="rotate(49)"/><circle id="v5" class="d" r="5" cx="72" transform="rotate(57)"/><circle id="v6" class="d" r="4.4" cx="77" transform="rotate(65)"/><circle id="v7" class="d" r="5" cx="72" transform="rotate(73)"/><circle id="v8" class="d" r="4.4" cx="77" transform="rotate(81)"/><circle id="v9" class="u" r="5" cx="72" transform="rotate(89)"/>
<circle id="v10" class="d" r="4.6" cx="60" transform="rotate(30)"/><circle id="v11" class="d" r="4.6" cx="63" transform="rotate(45)"/><circle id="v12" class="u" r="5" cx="60" transform="rotate(60)"/><circle id="v13" class="d" r="4.6" cx="63" transform="rotate(75)"/><circle id="v14" class="d" r="4.6" cx="50" transform="rotate(40)"/><circle id="v15" class="d" r="4.6" cx="48" transform="rotate(70)"/>
</g>
<g id="fanH8" transform="translate(628 1071)">
<circle id="w1" class="d" r="5" cx="74" transform="rotate(82)"/><circle id="w2" class="u" r="5" cx="78" transform="rotate(90)"/><circle id="w3" class="d" r="5" cx="74" transform="rotate(98)"/><circle id="w4" class="d" r="4.4" cx="78" transform="rotate(106)"/><circle id="w5" class="d" r="5" cx="74" transform="rotate(114)"/>
<circle id="w6" class="d" r="5" cx="64" transform="rotate(60)"/><circle id="w7" class="d" r="4.4" cx="68" transform="rotate(68)"/><circle id="w8" class="d" r="5" cx="64" transform="rotate(76)"/><circle id="w9" class="d" r="4.4" cx="68" transform="rotate(84)"/><circle id="w10" class="d" r="5" cx="64" transform="rotate(92)"/><circle id="w11" class="u" r="5" cx="68" transform="rotate(100)"/><circle id="w12" class="d" r="5" cx="64" transform="rotate(108)"/><circle id="w13" class="d" r="4.4" cx="68" transform="rotate(116)"/><circle id="w14" class="d" r="5" cx="64" transform="rotate(124)"/>
</g>
<g id="fanH9" transform="translate(480.5 1033)">
<circle id="y1" class="d" r="5" cx="70" transform="rotate(92)"/><circle id="y2" class="d" r="4.4" cx="75" transform="rotate(100)"/><circle id="y3" class="d" r="5" cx="70" transform="rotate(108)"/><circle id="y4" class="d" r="4.4" cx="75" transform="rotate(116)"/><circle id="y5" class="d" r="5" cx="70" transform="rotate(124)"/><circle id="y6" class="d" r="4.4" cx="75" transform="rotate(132)"/><circle id="y7" class="d" r="5" cx="70" transform="rotate(140)"/><circle id="y8" class="d" r="4.4" cx="75" transform="rotate(148)"/>
<circle id="y9" class="d" r="4.6" cx="56" transform="rotate(110)"/><circle id="y10" class="d" r="4.6" cx="59" transform="rotate(125)"/><circle id="y11" class="u" r="5" cx="56" transform="rotate(140)"/><circle id="y12" class="d" r="4.6" cx="59" transform="rotate(155)"/>
</g>
<g id="fanH15" transform="translate(680 629)">
<circle id="z1" class="d" r="4.6" cx="68.2" transform="rotate(-55.1)"/><circle id="z2" class="d" r="4.6" cx="74.7" transform="rotate(-51)"/><circle id="z3" class="d" r="4.6" cx="60" transform="rotate(-53.1)"/><circle id="z4" class="d" r="4.6" cx="66.5" transform="rotate(-46.2)"/><circle id="z5" class="d" r="4.6" cx="70" transform="rotate(-36.9)"/><circle id="z6" class="d" r="4.6" cx="59.7" transform="rotate(-31.3)"/><circle id="z7" class="u" r="5" cx="59.8" transform="rotate(-20.6)"/><circle id="z8" class="d" r="4.6" cx="56.5" transform="rotate(-13.3)"/>
</g>
<g id="grayNodes" class="u">
<circle id="u1" r="4.5" cx="417.7" cy="94.3"/><circle id="u2" r="4.5" cx="427.4" cy="82.5"/><circle id="u3" r="4.5" cx="436.9" cy="75.5"/><circle id="u4" r="4.5" cx="446" cy="70.8"/><circle id="u5" r="4.5" cx="454.6" cy="68.7"/><circle id="u6" r="4.5" cx="463" cy="67.2"/><circle id="u7" r="4.5" cx="471" cy="70.3"/><circle id="u8" r="4.5" cx="478.4" cy="64.1"/><circle id="u9" r="4.5" cx="480.4" cy="71.9"/><circle id="u10" r="4.5" cx="487.9" cy="77.3"/><circle id="u11" r="4.5" cx="493.6" cy="72.4"/><circle id="u12" r="4.5" cx="497.3" cy="80.2"/><circle id="u13" r="4.5" cx="502.5" cy="85.9"/><circle id="u14" r="4.5" cx="506.2" cy="93"/>
<circle id="u15" r="4.5" cx="569" cy="41.7"/><circle id="u16" r="4.5" cx="582.1" cy="30.7"/>
<circle id="u17" r="4.5" cx="538.3" cy="147.9"/><circle id="u18" r="4.5" cx="545.5" cy="142.7"/><circle id="u19" r="4.5" cx="552.1" cy="138"/><circle id="u20" r="4.5" cx="559.2" cy="139.8"/><circle id="u21" r="4.5" cx="564.1" cy="133.3"/><circle id="u22" r="4.5" cx="571.3" cy="135.4"/><circle id="u23" r="4.5" cx="579.3" cy="134.4"/>
<circle id="u24" r="4.5" cx="598.8" cy="164"/><circle id="u25" r="4.5" cx="605.6" cy="160.2"/><circle id="u26" r="4.5" cx="612.8" cy="162.8"/><circle id="u27" r="4.5" cx="619.4" cy="158.3"/><circle id="u28" r="4.5" cx="625.7" cy="162.8"/>
<circle id="u29" r="5" cx="672.4" cy="223.2"/><circle id="u30" r="5.8" cx="672.4" cy="250.8"/>
<circle id="u31" r="4.5" cx="704.5" cy="141.4"/><circle id="u32" r="4.5" cx="712.8" cy="134.6"/><circle id="u33" r="4.5" cx="718.8" cy="141.9"/><circle id="u34" r="4.5" cx="728.8" cy="142.7"/>
<circle id="u35" r="4.5" cx="471" cy="178.6"/><circle id="u36" r="4.5" cx="479.6" cy="169.3"/>
<circle id="u37" r="4.5" cx="533.4" cy="255.2"/><circle id="u38" r="4.5" cx="539.7" cy="250.5"/><circle id="u39" r="4.5" cx="546.9" cy="247.4"/><circle id="u40" r="4.5" cx="563.2" cy="247.4"/>
<circle id="u41" r="4.7" cx="572.1" cy="259.1"/><circle id="u42" r="4.7" cx="581.3" cy="295"/><circle id="u43" r="4.7" cx="588.5" cy="295"/><circle id="u44" r="4.5" cx="603.3" cy="294.3"/><circle id="u45" r="4.5" cx="619.4" cy="306"/><circle id="u46" r="4.5" cx="627.1" cy="306.8"/><circle id="u47" r="5" cx="628.6" cy="278.1"/>
<circle id="u48" r="5.2" cx="741" cy="284.6"/><circle id="u49" r="4.5" cx="755.5" cy="227.9"/><circle id="u50" r="5.4" cx="797.9" cy="214.9"/><circle id="u51" r="5.4" cx="818.6" cy="222.7"/><circle id="u52" r="4.5" cx="832.6" cy="232.8"/>
<circle id="u53" r="4" cx="843.6" cy="247.9"/><circle id="u54" r="4.2" cx="853.6" cy="262.8"/><circle id="u55" r="4.2" cx="861.4" cy="268.2"/><circle id="u56" r="4.5" cx="876.4" cy="274"/>
<circle id="u57" r="5.7" cx="853" cy="128"/><circle id="u58" r="4.7" cx="866" cy="114"/><circle id="u59" r="6.7" cx="888" cy="112"/><circle id="u60" r="6.7" cx="1003" cy="226.6"/><circle id="u61" r="4.4" cx="984.2" cy="250"/>
<circle id="u62" r="4.7" cx="913.9" cy="263"/><circle id="u63" r="5.4" cx="910.8" cy="297.9"/><circle id="u64" r="4.7" cx="923.3" cy="309.9"/><circle id="u65" r="4.7" cx="926.4" cy="317.5"/>
<circle id="u66" r="4.7" cx="767" cy="335.2"/><circle id="u67" r="4.7" cx="748.9" cy="360.7"/><circle id="u68" r="5.2" cx="762.3" cy="367.7"/><circle id="u69" r="4.7" cx="801.1" cy="356"/><circle id="u70" r="4.7" cx="811.4" cy="364.6"/><circle id="u71" r="4.7" cx="808.9" cy="394.3"/><circle id="u72" r="4.7" cx="815.4" cy="402.4"/>
<circle id="u73" r="5.4" cx="920.8" cy="352.6"/><circle id="u74" r="5.4" cx="929.5" cy="369.8"/><circle id="u75" r="4.7" cx="931.7" cy="382.8"/>
<circle id="u76" r="4.7" cx="913" cy="401"/><circle id="u77" r="4.7" cx="918.6" cy="406.3"/><circle id="u78" r="4.7" cx="919.2" cy="413.3"/><circle id="u79" r="4.7" cx="922.9" cy="419.8"/><circle id="u80" r="4.7" cx="866" cy="423"/><circle id="u81" r="4.7" cx="872.3" cy="435.9"/>
<circle id="u82" r="4.4" cx="1029.2" cy="387.2"/><circle id="u83" r="4.4" cx="1038.6" cy="395"/><circle id="u84" r="4.4" cx="1063.9" cy="394.5"/><circle id="u85" r="4.4" cx="1091.1" cy="442.7"/><circle id="u86" r="4.4" cx="1102" cy="446.6"/>
<circle id="u87" r="4.4" cx="227" cy="400"/><circle id="u88" r="4.4" cx="226.3" cy="533.9"/><circle id="u89" r="4.4" cx="220.6" cy="542.8"/><circle id="u90" r="6.2" cx="222" cy="602.1"/><circle id="u91" r="4.7" cx="379.6" cy="546"/><circle id="u92" r="4.7" cx="379.6" cy="559"/>
<circle id="u93" r="4.4" cx="92.3" cy="632.2"/><circle id="u94" r="4.4" cx="96.5" cy="641.6"/><circle id="u95" r="4.4" cx="102.6" cy="648.5"/><circle id="u96" r="4.4" cx="112.3" cy="653.1"/>
<circle id="u97" r="4.4" cx="63.6" cy="710.1"/><circle id="u98" r="4.4" cx="65.9" cy="719"/><circle id="u99" r="4.4" cx="73.6" cy="721.8"/><circle id="u100" r="4.4" cx="74.5" cy="729.6"/><circle id="u101" r="4.4" cx="83.1" cy="731"/>
<circle id="u102" r="6.2" cx="194.2" cy="661.4"/><circle id="u103" r="4.4" cx="181.1" cy="684.6"/><circle id="u104" r="5.2" cx="412.6" cy="649.4"/>
<circle id="u105" r="4.4" cx="151.3" cy="802.6"/><circle id="u106" r="5.7" cx="141.2" cy="813.2"/><circle id="u107" r="5.7" cx="163.3" cy="811.2"/><circle id="u108" r="4.8" cx="177.6" cy="814.1"/><circle id="u109" r="4.4" cx="183.4" cy="819.8"/><circle id="u110" r="6" cx="121.8" cy="819.3"/><circle id="u111" r="4.4" cx="133.2" cy="831.9"/><circle id="u112" r="6" cx="114" cy="837.6"/><circle id="u113" r="6" cx="99.7" cy="851.3"/><circle id="u114" r="6" cx="108.9" cy="869.1"/><circle id="u115" r="6" cx="98.3" cy="886.6"/><circle id="u116" r="6" cx="116.9" cy="897.2"/><circle id="u117" r="4.4" cx="100.8" cy="905.8"/><circle id="u118" r="6" cx="114" cy="917.2"/><circle id="u119" r="4.4" cx="134.1" cy="908.6"/><circle id="u120" r="6" cx="132.4" cy="924.4"/><circle id="u121" r="6" cx="152.7" cy="929.3"/><circle id="u122" r="4.4" cx="138.4" cy="938.7"/><circle id="u123" r="4.4" cx="165.6" cy="935.9"/><circle id="u124" r="6" cx="179.1" cy="923.8"/>
<circle id="u125" r="4.4" cx="328" cy="862.8"/>
<circle id="u126" r="4.4" cx="1121.7" cy="677.8"/><circle id="u127" r="4.4" cx="1130" cy="684"/><circle id="u128" r="4.4" cx="1120.4" cy="720"/><circle id="u129" r="6.2" cx="1136" cy="735.6"/><circle id="u130" r="4.4" cx="1132.6" cy="797.1"/><circle id="u131" r="4.4" cx="1139.4" cy="805.9"/><circle id="u132" r="4.4" cx="1130.3" cy="835.6"/><circle id="u133" r="4.4" cx="1137.3" cy="845.6"/>
<circle id="u134" r="4.4" cx="1009.2" cy="834.6"/><circle id="u135" r="6.2" cx="1012.3" cy="889.3"/>
<circle id="u136" r="4.4" cx="177" cy="1012"/><circle id="u137" r="4.4" cx="164" cy="1022"/><circle id="u138" r="4.4" cx="152" cy="1035"/><circle id="u139" r="4.4" cx="193" cy="1058"/>
<circle id="u140" r="4.4" cx="87" cy="1047"/><circle id="u141" r="4.4" cx="75" cy="1051"/><circle id="u142" r="4.4" cx="68" cy="1062"/><circle id="u143" r="4.4" cx="142" cy="1132"/><circle id="u144" r="4.4" cx="152" cy="1122"/>
<circle id="u145" r="4.4" cx="183" cy="1125"/><circle id="u146" r="4.4" cx="190" cy="1140"/><circle id="u147" r="4.4" cx="200" cy="1150"/><circle id="u148" r="4.4" cx="212" cy="1157"/>
<circle id="u149" r="4.4" cx="316.1" cy="1130.5"/><circle id="u150" r="4.4" cx="320.4" cy="1137.6"/><circle id="u151" r="4.4" cx="325.1" cy="1145.6"/>
<circle id="u152" r="4.4" cx="295.8" cy="1181.2"/><circle id="u153" r="4.4" cx="299.7" cy="1192.5"/><circle id="u154" r="4.4" cx="302.8" cy="1202.4"/><circle id="u155" r="4.4" cx="307.5" cy="1226.6"/>
<circle id="u156" r="4.4" cx="435.2" cy="1248.2"/><circle id="u157" r="4.4" cx="440.3" cy="1260.1"/><circle id="u158" r="4.4" cx="533.5" cy="1255.8"/><circle id="u159" r="4.4" cx="545.2" cy="1262.7"/><circle id="u160" r="4.4" cx="727.4" cy="1224.9"/><circle id="u161" r="4.4" cx="739.1" cy="1228.8"/>
<circle id="u162" r="4.4" cx="562.2" cy="1166.5"/><circle id="u163" r="4.4" cx="766.5" cy="1065.6"/><circle id="u164" r="4.4" cx="765.3" cy="1076.4"/><circle id="u165" r="4.7" cx="514.6" cy="995.3"/><circle id="u166" r="4.7" cx="467.6" cy="995.4"/>
<circle id="u167" r="4.7" cx="666.1" cy="673.8"/><circle id="u168" r="4.7" cx="669.9" cy="776.1"/><circle id="u169" r="4.7" cx="668.3" cy="834.3"/><circle id="u170" r="4.7" cx="650.5" cy="848.6"/><circle id="u171" r="4.7" cx="703.6" cy="832"/><circle id="u172" r="4.7" cx="663" cy="957.4"/><circle id="u173" r="4.7" cx="692.1" cy="949.4"/><circle id="u174" r="4.7" cx="698.9" cy="928"/><circle id="u175" r="4.7" cx="576.1" cy="925.7"/><circle id="u176" r="4.7" cx="492.1" cy="796.2"/><circle id="u177" r="4.7" cx="508.3" cy="786.7"/><circle id="u178" r="4.7" cx="511.4" cy="791.9"/><circle id="u179" r="4.7" cx="585.5" cy="733.1"/><circle id="u180" r="4.7" cx="495.2" cy="579"/>
</g>
<g id="blueNodes" class="d">
<circle id="d1" r="3.7" cx="636.9" cy="154.4"/><circle id="d2" r="3.8" cx="610" cy="498"/><circle id="d3" r="5.2" cx="907.6" cy="538.3"/><circle id="d4" r="5.2" cx="930.8" cy="544"/><circle id="d5" r="4" cx="1030.6" cy="590.3"/><circle id="d6" r="4.8" cx="424" cy="523.3"/><circle id="d7" r="4" cx="418.3" cy="546.2"/><circle id="d8" r="4" cx="350.4" cy="660.2"/>
<circle id="d9" r="4.4" cx="450.5" cy="654.3"/><circle id="d10" r="4.4" cx="465.5" cy="676.7"/><circle id="d11" r="4.4" cx="499" cy="579.9"/><circle id="d12" r="4.4" cx="509.9" cy="583.6"/><circle id="d13" r="4.4" cx="516.1" cy="567.8"/><circle id="d14" r="4.4" cx="417.7" cy="777.5"/><circle id="d15" r="4.4" cx="439.6" cy="814.2"/><circle id="d16" r="4.4" cx="427.1" cy="876.4"/>
<circle id="d17" r="4.4" cx="658.3" cy="661.5"/><circle id="d18" r="4.4" cx="675.5" cy="683.9"/><circle id="d19" r="4.4" cx="672.4" cy="670.1"/><circle id="d20" r="4.4" cx="653.6" cy="722.2"/><circle id="d21" r="4.4" cx="593.3" cy="755.5"/><circle id="d22" r="4.4" cx="596.7" cy="766.7"/><circle id="d23" r="4.4" cx="597.4" cy="780.4"/><circle id="d24" r="4.4" cx="619.2" cy="763.2"/><circle id="d25" r="4.4" cx="628" cy="765.5"/><circle id="d26" r="4.4" cx="641.1" cy="754.6"/><circle id="d27" r="4.8" cx="643.3" cy="774.7"/><circle id="d28" r="4.4" cx="655.2" cy="789"/><circle id="d29" r="4.4" cx="657.7" cy="799"/><circle id="d30" r="4.4" cx="666.1" cy="798.2"/><circle id="d31" r="4.4" cx="663" cy="808.5"/><circle id="d32" r="4.4" cx="574" cy="787.6"/><circle id="d33" r="4.4" cx="555.2" cy="800.5"/><circle id="d34" r="4.4" cx="563" cy="804.8"/><circle id="d35" r="4.4" cx="664" cy="823.4"/><circle id="d36" r="4.4" cx="660.8" cy="841.1"/><circle id="d37" r="4.4" cx="655.2" cy="864.1"/><circle id="d38" r="4.4" cx="707.7" cy="810.5"/><circle id="d39" r="4.4" cx="728.6" cy="713.1"/><circle id="d40" r="4.4" cx="733.3" cy="834.3"/><circle id="d41" r="4.4" cx="740.5" cy="807.6"/><circle id="d42" r="4.4" cx="771.7" cy="832.5"/><circle id="d43" r="4.4" cx="800.5" cy="839.1"/><circle id="d44" r="4.4" cx="843.3" cy="832.5"/><circle id="d45" r="4.4" cx="824" cy="868.6"/><circle id="d46" r="4.4" cx="872.4" cy="740.9"/><circle id="d47" r="4.4" cx="820.2" cy="789.6"/><circle id="d48" r="4.4" cx="820.2" cy="801.9"/><circle id="d49" r="4.4" cx="817.7" cy="811.9"/>
<circle id="d50" r="4.4" cx="697.4" cy="870.6"/><circle id="d51" r="4.4" cx="699.6" cy="885"/><circle id="d52" r="4.4" cx="716.1" cy="905.9"/><circle id="d53" r="4.4" cx="667.7" cy="907.9"/><circle id="d54" r="4.4" cx="645.8" cy="900.7"/><circle id="d55" r="4.4" cx="625.5" cy="892.1"/><circle id="d56" r="4.4" cx="612.1" cy="878.7"/><circle id="d57" r="4.4" cx="588" cy="900.7"/><circle id="d58" r="4.4" cx="601.4" cy="920.8"/><circle id="d59" r="4.4" cx="614.6" cy="920.2"/><circle id="d60" r="4.4" cx="633.9" cy="942.3"/><circle id="d61" r="4.4" cx="617.7" cy="960.3"/><circle id="d62" r="4.4" cx="658.3" cy="966.6"/><circle id="d63" r="4.4" cx="767" cy="979.5"/><circle id="d64" r="4.4" cx="877" cy="985.2"/><circle id="d65" r="4.4" cx="888" cy="978.1"/><circle id="d66" r="4.4" cx="517.7" cy="970.1"/><circle id="d67" r="4.4" cx="551.4" cy="884.1"/><circle id="d68" r="4.4" cx="563.6" cy="932.3"/><circle id="d69" r="4.4" cx="555.2" cy="842"/><circle id="d70" r="4.4" cx="537" cy="846.3"/>
<circle id="d71" r="4.4" cx="383" cy="803.2"/><circle id="d72" r="4.4" cx="404" cy="836.2"/><circle id="d73" r="4.4" cx="292.8" cy="841.9"/><circle id="d74" r="4.4" cx="311.4" cy="843.3"/><circle id="d75" r="4.4" cx="326.6" cy="849"/><circle id="d76" r="4.4" cx="903.5" cy="636.2"/><circle id="d77" r="4" cx="408.3" cy="1020.2"/><circle id="d78" r="4" cx="305.5" cy="1026.7"/><circle id="d79" r="4" cx="418.8" cy="1134.8"/>
<circle id="d80" r="4.4" cx="774.3" cy="1074.9"/><circle id="d81" r="4" cx="764.5" cy="1038.2"/><circle id="d82" r="4.4" cx="878.2" cy="992.8"/><circle id="d83" r="4.8" cx="935.5" cy="843.4"/><circle id="d84" r="4.8" cx="953" cy="844"/><circle id="d85" r="4.4" cx="1009.7" cy="853.7"/>
</g>
<g id="tx" class="t">
<g id="P"><circle cx="688" cy="302" r="17"/></g>
<g id="E"><circle cx="712.2" cy="208.3" r="10.5"/></g>
<g id="T1"><circle cx="610.5" cy="73.4" r="6"/></g>
<g id="B"><circle cx="460.4" cy="120.6" r="6"/></g>
<g id="C"><circle cx="575" cy="198.7" r="7"/></g>
<g id="D"><circle cx="618.5" cy="229.2" r="6"/></g>
<g id="F"><circle cx="567" cy="317.7" r="6"/></g>
<g id="T2"><circle cx="501.1" cy="232.5" r="6"/></g>
<g id="T3"><circle cx="599.1" cy="327.6" r="6"/></g>
<g id="T4"><circle cx="610.2" cy="370.3" r="7"/></g>
<g id="T5"><circle cx="641.5" cy="376.3" r="6"/></g>
<g id="T6"><circle cx="678.7" cy="382.3" r="6"/></g>
<g id="T7"><circle cx="704.5" cy="384.9" r="6"/></g>
<g id="T8"><circle cx="787" cy="283.3" r="6"/></g>
<g id="T10"><circle cx="818.3" cy="322.1" r="9"/></g>
<g id="T11"><circle cx="864.5" cy="348.2" r="9"/></g>
<g id="T12"><circle cx="897.3" cy="166.4" r="6"/></g>
<g id="T13"><circle cx="955.1" cy="205.7" r="6"/></g>
<g id="T14"><circle cx="763.6" cy="407.3" r="7"/></g>
<g id="T15"><circle cx="761.4" cy="446.4" r="6"/></g>
<g id="T16"><circle cx="722.3" cy="427.1" r="6"/></g>
<g id="T17"><circle cx="798.3" cy="458.9" r="6"/></g>
<g id="T18"><circle cx="862" cy="393.7" r="6"/></g>
<g id="T19"><circle cx="855.1" cy="437.5" r="6"/></g>
<g id="T20"><circle cx="997.3" cy="440.1" r="6"/></g>
<g id="T21"><circle cx="1031.7" cy="446.4" r="6"/></g>
<g id="T22"><circle cx="1082.3" cy="499.7" r="6"/></g>
<g id="A"><circle cx="416" cy="473" r="7.5"/></g>
<g id="T23"><circle cx="261" cy="454" r="6"/></g>
<g id="T24"><circle cx="447" cy="549" r="6"/></g>
<g id="T25"><circle cx="276.5" cy="575.7" r="6"/></g>
<g id="T26"><circle cx="138.4" cy="609.2" r="6"/></g>
<g id="T27"><circle cx="111.7" cy="683.7" r="6"/></g>
<g id="T28"><circle cx="240.7" cy="703.8" r="6"/></g>
<g id="K"><circle cx="167" cy="869.4" r="6.5"/></g>
<g id="H1"><circle cx="327.5" cy="778" r="10"/></g>
<g id="H2"><circle cx="397" cy="744" r="11"/></g>
<g id="H3"><circle cx="440" cy="725" r="8"/></g>
<g id="H14"><circle cx="567" cy="610" r="10"/></g>
<g id="H15"><circle cx="680" cy="629" r="6"/></g>
<g id="H13"><circle cx="802" cy="657" r="10"/></g>
<g id="H12"><circle cx="946" cy="691" r="11.5"/></g>
<g id="H11"><circle cx="875" cy="792" r="11"/></g>
<g id="H21"><circle cx="620" cy="709" r="6.3"/></g>
<g id="H16"><circle cx="534" cy="750" r="12"/></g>
<g id="H19"><circle cx="726" cy="756" r="14"/></g>
<g id="T9"><circle cx="761" cy="793" r="7"/></g>
<g id="H17"><circle cx="606" cy="820" r="13"/></g>
<g id="H18"><circle cx="521" cy="881" r="11"/></g>
<g id="H20"><circle cx="759" cy="899" r="11"/></g>
<g id="H10"><circle cx="902" cy="908" r="19"/></g>
<g id="H4"><circle cx="400" cy="921" r="14"/></g>
<g id="H5"><circle cx="580" cy="991" r="16"/></g>
<g id="H6"><circle cx="707" cy="1002" r="13"/></g>
<g id="H7"><circle cx="800" cy="1013" r="11"/></g>
<g id="H8"><circle cx="628" cy="1071" r="10"/></g>
<g id="H9"><circle cx="480.5" cy="1033" r="6.5"/></g>
<g id="T29"><circle cx="1092.5" cy="735.6" r="6"/></g>
<g id="T30"><circle cx="1094.4" cy="780" r="6"/></g>
<g id="T31"><circle cx="1094.4" cy="838.7" r="6"/></g>
<g id="T32"><circle cx="1093.8" cy="877.2" r="6"/></g>
<g id="T33"><circle cx="212" cy="956" r="6"/></g>
<g id="T34"><circle cx="197" cy="985" r="6"/></g>
<g id="T35"><circle cx="233" cy="1003" r="6"/></g>
<g id="T36"><circle cx="111" cy="1091" r="6"/></g>
<g id="T37"><circle cx="231" cy="1108" r="6"/></g>
<g id="T38"><circle cx="374.7" cy="1104.5" r="6"/></g>
<g id="T39"><circle cx="353.6" cy="1173" r="6"/></g>
<g id="T40"><circle cx="360.6" cy="1209.3" r="6"/></g>
<g id="T41"><circle cx="488.4" cy="1233.5" r="6"/></g>
<g id="T42"><circle cx="572.5" cy="1213.2" r="6"/></g>
<g id="T43"><circle cx="757.9" cy="1175.4" r="6"/></g>
</g>
<g id="G"><circle class="x" cx="673" cy="539" r="24"/></g>
</g>
<g id="legend">
<rect x="1299" y="18" width="269" height="334" fill="#f6f6f6"/>
<rect class="sw" x="1305.5" y="26.5" width="26" height="26" fill="#ff1a1a"/>
<rect class="sw" x="1305.5" y="62.5" width="26" height="26" fill="#ffff4d"/>
<rect class="sw" x="1305.5" y="98.5" width="26" height="26" fill="#007a1e"/>
<rect class="sw" x="1305.5" y="134.5" width="26" height="26" fill="#0000ff"/>
<rect class="sw" x="1305.5" y="170.5" width="26" height="26" fill="#ffc0cb"/>
<rect class="sw" x="1305.5" y="206.5" width="26" height="26" fill="#821a6e"/>
<rect class="sw" x="1305.5" y="242.5" width="26" height="26" fill="#ffa533"/>
<rect class="sw" x="1305.5" y="278.5" width="26" height="26" fill="#90caf9"/>
<rect class="sw" x="1305.5" y="314.5" width="26" height="26" fill="#808080"/>
<text class="lg" x="1340" y="47">Exchange 75% - 80%</text>
<text class="lg" x="1340" y="83">Exchange 80% - 90%</text>
<text class="lg" x="1340" y="119">Exchange 90% - 100%</text>
<text class="lg" x="1340" y="155">Deposit Address</text>
<text class="lg" x="1340" y="191">Co-spent</text>
<text class="lg" x="1340" y="227">Co-spent 2nd order</text>
<text class="lg" x="1340" y="263">Withdrawal Address</text>
<text class="lg" x="1340" y="299">Transaction</text>
<text class="lg" x="1340" y="335">Unclassified</text>
</g>
</g>
</svg>
